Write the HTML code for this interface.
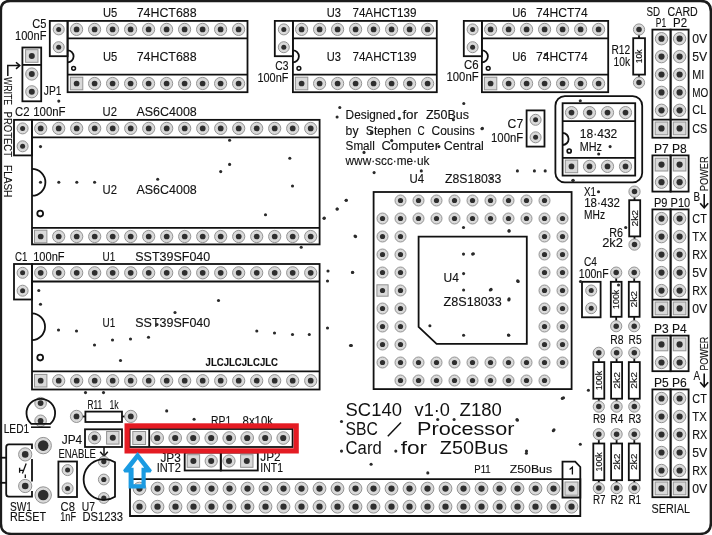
<!DOCTYPE html>
<html><head><meta charset="utf-8"><style>
html,body{margin:0;padding:0;background:#fff;}
svg{display:block;will-change:transform;}
text{font-family:"Liberation Sans", sans-serif;stroke:#111;stroke-width:0.12px;}
</style></head><body>
<svg width="712" height="535" viewBox="0 0 712 535">
<rect width="712" height="535" fill="#fff"/>
<path d="M 10.2 0.9 H 700.4 Q 710.9 0.9 710.9 11.4 V 522.9 Q 710.9 533.9 699.9 533.9 H 11.4 Q 0.9 533.9 0.9 523.4 V 10.2 Q 0.9 0.9 10.2 0.9 Z" fill="none" stroke="#1c1c1c" stroke-width="2.5" />
<rect x="67.6" y="20.9" width="179.9" height="71.30" rx="0" fill="none" stroke="#111" stroke-width="1.8"/>
<line x1="67.6" y1="38.4" x2="247.5" y2="38.4" stroke="#111" stroke-width="1.8" stroke-linecap="butt"/>
<line x1="67.6" y1="74.6" x2="247.5" y2="74.6" stroke="#111" stroke-width="1.8" stroke-linecap="butt"/>
<path d="M 67.6 50.3 A 6.0 6.0 0 0 1 67.6 62.3" fill="none" stroke="#111" stroke-width="1.8"/>
<circle cx="76.6" cy="29.4" r="6.1" fill="#d9d9d9" stroke="#939393" stroke-width="1.0"/>
<circle cx="76.6" cy="29.4" r="2.85" fill="#2e2e2e"/>
<rect x="70.4" y="77.2" width="12.39" height="12.6" fill="#d9d9d9" stroke="#939393" stroke-width="1.0"/>
<circle cx="76.6" cy="83.5" r="2.85" fill="#2e2e2e"/>
<circle cx="94.6" cy="29.4" r="6.1" fill="#d9d9d9" stroke="#939393" stroke-width="1.0"/>
<circle cx="94.6" cy="29.4" r="2.85" fill="#2e2e2e"/>
<circle cx="94.6" cy="83.5" r="6.1" fill="#d9d9d9" stroke="#939393" stroke-width="1.0"/>
<circle cx="94.6" cy="83.5" r="2.85" fill="#2e2e2e"/>
<circle cx="112.6" cy="29.4" r="6.1" fill="#d9d9d9" stroke="#939393" stroke-width="1.0"/>
<circle cx="112.6" cy="29.4" r="2.85" fill="#2e2e2e"/>
<circle cx="112.6" cy="83.5" r="6.1" fill="#d9d9d9" stroke="#939393" stroke-width="1.0"/>
<circle cx="112.6" cy="83.5" r="2.85" fill="#2e2e2e"/>
<circle cx="130.6" cy="29.4" r="6.1" fill="#d9d9d9" stroke="#939393" stroke-width="1.0"/>
<circle cx="130.6" cy="29.4" r="2.85" fill="#2e2e2e"/>
<circle cx="130.6" cy="83.5" r="6.1" fill="#d9d9d9" stroke="#939393" stroke-width="1.0"/>
<circle cx="130.6" cy="83.5" r="2.85" fill="#2e2e2e"/>
<circle cx="148.6" cy="29.4" r="6.1" fill="#d9d9d9" stroke="#939393" stroke-width="1.0"/>
<circle cx="148.6" cy="29.4" r="2.85" fill="#2e2e2e"/>
<circle cx="148.6" cy="83.5" r="6.1" fill="#d9d9d9" stroke="#939393" stroke-width="1.0"/>
<circle cx="148.6" cy="83.5" r="2.85" fill="#2e2e2e"/>
<circle cx="166.6" cy="29.4" r="6.1" fill="#d9d9d9" stroke="#939393" stroke-width="1.0"/>
<circle cx="166.6" cy="29.4" r="2.85" fill="#2e2e2e"/>
<circle cx="166.6" cy="83.5" r="6.1" fill="#d9d9d9" stroke="#939393" stroke-width="1.0"/>
<circle cx="166.6" cy="83.5" r="2.85" fill="#2e2e2e"/>
<circle cx="184.6" cy="29.4" r="6.1" fill="#d9d9d9" stroke="#939393" stroke-width="1.0"/>
<circle cx="184.6" cy="29.4" r="2.85" fill="#2e2e2e"/>
<circle cx="184.6" cy="83.5" r="6.1" fill="#d9d9d9" stroke="#939393" stroke-width="1.0"/>
<circle cx="184.6" cy="83.5" r="2.85" fill="#2e2e2e"/>
<circle cx="202.6" cy="29.4" r="6.1" fill="#d9d9d9" stroke="#939393" stroke-width="1.0"/>
<circle cx="202.6" cy="29.4" r="2.85" fill="#2e2e2e"/>
<circle cx="202.6" cy="83.5" r="6.1" fill="#d9d9d9" stroke="#939393" stroke-width="1.0"/>
<circle cx="202.6" cy="83.5" r="2.85" fill="#2e2e2e"/>
<circle cx="220.6" cy="29.4" r="6.1" fill="#d9d9d9" stroke="#939393" stroke-width="1.0"/>
<circle cx="220.6" cy="29.4" r="2.85" fill="#2e2e2e"/>
<circle cx="220.6" cy="83.5" r="6.1" fill="#d9d9d9" stroke="#939393" stroke-width="1.0"/>
<circle cx="220.6" cy="83.5" r="2.85" fill="#2e2e2e"/>
<circle cx="238.6" cy="29.4" r="6.1" fill="#d9d9d9" stroke="#939393" stroke-width="1.0"/>
<circle cx="238.6" cy="29.4" r="2.85" fill="#2e2e2e"/>
<circle cx="238.6" cy="83.5" r="6.1" fill="#d9d9d9" stroke="#939393" stroke-width="1.0"/>
<circle cx="238.6" cy="83.5" r="2.85" fill="#2e2e2e"/>
<circle cx="73.6" cy="68.3" r="1.9" fill="none" stroke="#111" stroke-width="1.5"/>
<text x="103" y="16.6" font-size="12.0" textLength="14.30" lengthAdjust="spacingAndGlyphs" fill="#111">U5</text>
<text x="136.7" y="16.6" font-size="12.0" textLength="59.90" lengthAdjust="spacingAndGlyphs" fill="#111">74HCT688</text>
<text x="103" y="61.2" font-size="12.0" textLength="14.30" lengthAdjust="spacingAndGlyphs" fill="#111">U5</text>
<text x="136.7" y="61.2" font-size="12.0" textLength="59.90" lengthAdjust="spacingAndGlyphs" fill="#111">74HCT688</text>
<rect x="49.8" y="20.9" width="17.79" height="35.30" rx="0" fill="none" stroke="#111" stroke-width="1.8"/>
<circle cx="58.7" cy="29.4" r="5.5" fill="#d9d9d9" stroke="#939393" stroke-width="1.0"/>
<circle cx="58.7" cy="29.4" r="2.5" fill="#2e2e2e"/>
<circle cx="58.7" cy="47.2" r="5.5" fill="#d9d9d9" stroke="#939393" stroke-width="1.0"/>
<circle cx="58.7" cy="47.2" r="2.5" fill="#2e2e2e"/>
<text x="32.2" y="28.3" font-size="12.0" textLength="14.20" lengthAdjust="spacingAndGlyphs" fill="#111">C5</text>
<text x="15" y="40.3" font-size="12.0" textLength="31.40" lengthAdjust="spacingAndGlyphs" fill="#111">100nF</text>
<rect x="22.4" y="47.5" width="18.80" height="53.8" rx="0" fill="none" stroke="#111" stroke-width="1.8"/>
<line x1="22.4" y1="64.9" x2="41.2" y2="64.9" stroke="#111" stroke-width="1.8" stroke-linecap="butt"/>
<rect x="25.6" y="49.69" width="12.39" height="12.6" fill="#d9d9d9" stroke="#939393" stroke-width="1.0"/>
<circle cx="31.8" cy="56" r="3.0" fill="#2e2e2e"/>
<circle cx="31.8" cy="74" r="6.1" fill="#d9d9d9" stroke="#939393" stroke-width="1.0"/>
<circle cx="31.8" cy="74" r="3.0" fill="#2e2e2e"/>
<circle cx="31.8" cy="91.8" r="6.1" fill="#d9d9d9" stroke="#939393" stroke-width="1.0"/>
<circle cx="31.8" cy="91.8" r="3.0" fill="#2e2e2e"/>
<text x="43.8" y="94.5" font-size="12.0" textLength="17.70" lengthAdjust="spacingAndGlyphs" fill="#111">JP1</text>
<path d="M 7.8 76 V 65.6 H 19.5" fill="none" stroke="#111" stroke-width="1.5" />
<path d="M 16 62.3 L 19.8 65.6 L 16 68.9" fill="none" stroke="#111" stroke-width="1.5" />
<text transform="translate(3.70,77) rotate(90)" x="0" y="0" font-size="11.48" textLength="28.20" lengthAdjust="spacingAndGlyphs" fill="#111">WRITE</text>
<text transform="translate(3.70,111.6) rotate(90)" x="0" y="0" font-size="11.48" textLength="45.40" lengthAdjust="spacingAndGlyphs" fill="#111">PROTECT</text>
<text transform="translate(3.70,165.1) rotate(90)" x="0" y="0" font-size="11.48" textLength="32.20" lengthAdjust="spacingAndGlyphs" fill="#111">FLASH</text>
<rect x="292.9" y="20.9" width="143.90" height="71.30" rx="0" fill="none" stroke="#111" stroke-width="1.8"/>
<line x1="292.9" y1="38.4" x2="436.8" y2="38.4" stroke="#111" stroke-width="1.8" stroke-linecap="butt"/>
<line x1="292.9" y1="74.6" x2="436.8" y2="74.6" stroke="#111" stroke-width="1.8" stroke-linecap="butt"/>
<path d="M 292.9 50.3 A 6.0 6.0 0 0 1 292.9 62.3" fill="none" stroke="#111" stroke-width="1.8"/>
<circle cx="301.6" cy="29.4" r="6.1" fill="#d9d9d9" stroke="#939393" stroke-width="1.0"/>
<circle cx="301.6" cy="29.4" r="2.85" fill="#2e2e2e"/>
<rect x="295.4" y="77.2" width="12.39" height="12.6" fill="#d9d9d9" stroke="#939393" stroke-width="1.0"/>
<circle cx="301.6" cy="83.5" r="2.85" fill="#2e2e2e"/>
<circle cx="319.6" cy="29.4" r="6.1" fill="#d9d9d9" stroke="#939393" stroke-width="1.0"/>
<circle cx="319.6" cy="29.4" r="2.85" fill="#2e2e2e"/>
<circle cx="319.6" cy="83.5" r="6.1" fill="#d9d9d9" stroke="#939393" stroke-width="1.0"/>
<circle cx="319.6" cy="83.5" r="2.85" fill="#2e2e2e"/>
<circle cx="337.6" cy="29.4" r="6.1" fill="#d9d9d9" stroke="#939393" stroke-width="1.0"/>
<circle cx="337.6" cy="29.4" r="2.85" fill="#2e2e2e"/>
<circle cx="337.6" cy="83.5" r="6.1" fill="#d9d9d9" stroke="#939393" stroke-width="1.0"/>
<circle cx="337.6" cy="83.5" r="2.85" fill="#2e2e2e"/>
<circle cx="355.6" cy="29.4" r="6.1" fill="#d9d9d9" stroke="#939393" stroke-width="1.0"/>
<circle cx="355.6" cy="29.4" r="2.85" fill="#2e2e2e"/>
<circle cx="355.6" cy="83.5" r="6.1" fill="#d9d9d9" stroke="#939393" stroke-width="1.0"/>
<circle cx="355.6" cy="83.5" r="2.85" fill="#2e2e2e"/>
<circle cx="373.6" cy="29.4" r="6.1" fill="#d9d9d9" stroke="#939393" stroke-width="1.0"/>
<circle cx="373.6" cy="29.4" r="2.85" fill="#2e2e2e"/>
<circle cx="373.6" cy="83.5" r="6.1" fill="#d9d9d9" stroke="#939393" stroke-width="1.0"/>
<circle cx="373.6" cy="83.5" r="2.85" fill="#2e2e2e"/>
<circle cx="391.6" cy="29.4" r="6.1" fill="#d9d9d9" stroke="#939393" stroke-width="1.0"/>
<circle cx="391.6" cy="29.4" r="2.85" fill="#2e2e2e"/>
<circle cx="391.6" cy="83.5" r="6.1" fill="#d9d9d9" stroke="#939393" stroke-width="1.0"/>
<circle cx="391.6" cy="83.5" r="2.85" fill="#2e2e2e"/>
<circle cx="409.6" cy="29.4" r="6.1" fill="#d9d9d9" stroke="#939393" stroke-width="1.0"/>
<circle cx="409.6" cy="29.4" r="2.85" fill="#2e2e2e"/>
<circle cx="409.6" cy="83.5" r="6.1" fill="#d9d9d9" stroke="#939393" stroke-width="1.0"/>
<circle cx="409.6" cy="83.5" r="2.85" fill="#2e2e2e"/>
<circle cx="427.6" cy="29.4" r="6.1" fill="#d9d9d9" stroke="#939393" stroke-width="1.0"/>
<circle cx="427.6" cy="29.4" r="2.85" fill="#2e2e2e"/>
<circle cx="427.6" cy="83.5" r="6.1" fill="#d9d9d9" stroke="#939393" stroke-width="1.0"/>
<circle cx="427.6" cy="83.5" r="2.85" fill="#2e2e2e"/>
<circle cx="298.9" cy="68.3" r="1.9" fill="none" stroke="#111" stroke-width="1.5"/>
<text x="326.8" y="16.6" font-size="12.0" textLength="14.20" lengthAdjust="spacingAndGlyphs" fill="#111">U3</text>
<text x="352.4" y="16.6" font-size="12.0" textLength="64.20" lengthAdjust="spacingAndGlyphs" fill="#111">74AHCT139</text>
<text x="326.8" y="61.2" font-size="12.0" textLength="14.20" lengthAdjust="spacingAndGlyphs" fill="#111">U3</text>
<text x="352.4" y="61.2" font-size="12.0" textLength="64.20" lengthAdjust="spacingAndGlyphs" fill="#111">74AHCT139</text>
<rect x="274.8" y="20.9" width="18.09" height="35.30" rx="0" fill="none" stroke="#111" stroke-width="1.8"/>
<circle cx="283.8" cy="29.4" r="5.5" fill="#d9d9d9" stroke="#939393" stroke-width="1.0"/>
<circle cx="283.8" cy="29.4" r="2.5" fill="#2e2e2e"/>
<circle cx="283.8" cy="47.2" r="5.5" fill="#d9d9d9" stroke="#939393" stroke-width="1.0"/>
<circle cx="283.8" cy="47.2" r="2.5" fill="#2e2e2e"/>
<text x="275.2" y="70.2" font-size="12.0" textLength="13.20" lengthAdjust="spacingAndGlyphs" fill="#111">C3</text>
<text x="257.5" y="81.6" font-size="12.0" textLength="30.90" lengthAdjust="spacingAndGlyphs" fill="#111">100nF</text>
<rect x="481.9" y="20.9" width="126.30" height="71.30" rx="0" fill="none" stroke="#111" stroke-width="1.8"/>
<line x1="481.9" y1="38.4" x2="608.2" y2="38.4" stroke="#111" stroke-width="1.8" stroke-linecap="butt"/>
<line x1="481.9" y1="74.6" x2="608.2" y2="74.6" stroke="#111" stroke-width="1.8" stroke-linecap="butt"/>
<path d="M 481.9 50.3 A 6.0 6.0 0 0 1 481.9 62.3" fill="none" stroke="#111" stroke-width="1.8"/>
<circle cx="490.6" cy="29.4" r="6.1" fill="#d9d9d9" stroke="#939393" stroke-width="1.0"/>
<circle cx="490.6" cy="29.4" r="2.85" fill="#2e2e2e"/>
<rect x="484.4" y="77.2" width="12.39" height="12.6" fill="#d9d9d9" stroke="#939393" stroke-width="1.0"/>
<circle cx="490.6" cy="83.5" r="2.85" fill="#2e2e2e"/>
<circle cx="508.6" cy="29.4" r="6.1" fill="#d9d9d9" stroke="#939393" stroke-width="1.0"/>
<circle cx="508.6" cy="29.4" r="2.85" fill="#2e2e2e"/>
<circle cx="508.6" cy="83.5" r="6.1" fill="#d9d9d9" stroke="#939393" stroke-width="1.0"/>
<circle cx="508.6" cy="83.5" r="2.85" fill="#2e2e2e"/>
<circle cx="526.6" cy="29.4" r="6.1" fill="#d9d9d9" stroke="#939393" stroke-width="1.0"/>
<circle cx="526.6" cy="29.4" r="2.85" fill="#2e2e2e"/>
<circle cx="526.6" cy="83.5" r="6.1" fill="#d9d9d9" stroke="#939393" stroke-width="1.0"/>
<circle cx="526.6" cy="83.5" r="2.85" fill="#2e2e2e"/>
<circle cx="544.6" cy="29.4" r="6.1" fill="#d9d9d9" stroke="#939393" stroke-width="1.0"/>
<circle cx="544.6" cy="29.4" r="2.85" fill="#2e2e2e"/>
<circle cx="544.6" cy="83.5" r="6.1" fill="#d9d9d9" stroke="#939393" stroke-width="1.0"/>
<circle cx="544.6" cy="83.5" r="2.85" fill="#2e2e2e"/>
<circle cx="562.6" cy="29.4" r="6.1" fill="#d9d9d9" stroke="#939393" stroke-width="1.0"/>
<circle cx="562.6" cy="29.4" r="2.85" fill="#2e2e2e"/>
<circle cx="562.6" cy="83.5" r="6.1" fill="#d9d9d9" stroke="#939393" stroke-width="1.0"/>
<circle cx="562.6" cy="83.5" r="2.85" fill="#2e2e2e"/>
<circle cx="580.6" cy="29.4" r="6.1" fill="#d9d9d9" stroke="#939393" stroke-width="1.0"/>
<circle cx="580.6" cy="29.4" r="2.85" fill="#2e2e2e"/>
<circle cx="580.6" cy="83.5" r="6.1" fill="#d9d9d9" stroke="#939393" stroke-width="1.0"/>
<circle cx="580.6" cy="83.5" r="2.85" fill="#2e2e2e"/>
<circle cx="598.6" cy="29.4" r="6.1" fill="#d9d9d9" stroke="#939393" stroke-width="1.0"/>
<circle cx="598.6" cy="29.4" r="2.85" fill="#2e2e2e"/>
<circle cx="598.6" cy="83.5" r="6.1" fill="#d9d9d9" stroke="#939393" stroke-width="1.0"/>
<circle cx="598.6" cy="83.5" r="2.85" fill="#2e2e2e"/>
<circle cx="488.2" cy="68.3" r="1.9" fill="none" stroke="#111" stroke-width="1.5"/>
<text x="512.3" y="16.6" font-size="12.0" textLength="14.30" lengthAdjust="spacingAndGlyphs" fill="#111">U6</text>
<text x="536" y="16.6" font-size="12.0" textLength="51.80" lengthAdjust="spacingAndGlyphs" fill="#111">74HCT74</text>
<text x="512.3" y="61.2" font-size="12.0" textLength="14.30" lengthAdjust="spacingAndGlyphs" fill="#111">U6</text>
<text x="536" y="61.2" font-size="12.0" textLength="51.80" lengthAdjust="spacingAndGlyphs" fill="#111">74HCT74</text>
<rect x="463.8" y="20.9" width="18.09" height="35.30" rx="0" fill="none" stroke="#111" stroke-width="1.8"/>
<circle cx="472.6" cy="29.4" r="5.5" fill="#d9d9d9" stroke="#939393" stroke-width="1.0"/>
<circle cx="472.6" cy="29.4" r="2.5" fill="#2e2e2e"/>
<circle cx="472.6" cy="47.2" r="5.5" fill="#d9d9d9" stroke="#939393" stroke-width="1.0"/>
<circle cx="472.6" cy="47.2" r="2.5" fill="#2e2e2e"/>
<text x="464" y="69.0" font-size="12.0" textLength="14.60" lengthAdjust="spacingAndGlyphs" fill="#111">C6</text>
<text x="446.5" y="81.0" font-size="12.0" textLength="32.10" lengthAdjust="spacingAndGlyphs" fill="#111">100nF</text>
<line x1="639" y1="34.5" x2="639" y2="38.2" stroke="#111" stroke-width="1.8" stroke-linecap="butt"/>
<line x1="639" y1="74.6" x2="639" y2="77.6" stroke="#111" stroke-width="1.8" stroke-linecap="butt"/>
<rect x="633.2" y="38.2" width="11.79" height="36.39" rx="0" fill="none" stroke="#111" stroke-width="1.8"/>
<circle cx="639" cy="29.5" r="5.6" fill="#d9d9d9" stroke="#939393" stroke-width="1.0"/>
<circle cx="639" cy="29.5" r="2.75" fill="#2e2e2e"/>
<circle cx="639" cy="82.6" r="5.6" fill="#d9d9d9" stroke="#939393" stroke-width="1.0"/>
<circle cx="639" cy="82.6" r="2.75" fill="#2e2e2e"/>
<text transform="translate(642.15,63.35) rotate(-90)" x="0" y="0" font-size="9.16" textLength="13.90" lengthAdjust="spacingAndGlyphs" fill="#111">10k</text>
<text x="611.5" y="54" font-size="12.0" textLength="18.70" lengthAdjust="spacingAndGlyphs" fill="#111">R12</text>
<text x="613.6" y="65.6" font-size="12.0" textLength="16.60" lengthAdjust="spacingAndGlyphs" fill="#111">10k</text>
<rect x="652.4" y="29.6" width="18.20" height="108.1" rx="0" fill="none" stroke="#111" stroke-width="1.8"/>
<rect x="670.6" y="29.6" width="18.0" height="108.1" rx="0" fill="none" stroke="#111" stroke-width="1.8"/>
<line x1="652.4" y1="119.6" x2="688.6" y2="119.6" stroke="#111" stroke-width="1.8" stroke-linecap="butt"/>
<circle cx="661.5" cy="38.7" r="6.2" fill="#d9d9d9" stroke="#939393" stroke-width="1.0"/>
<circle cx="661.5" cy="38.7" r="3.1" fill="#2e2e2e"/>
<circle cx="679.6" cy="38.7" r="6.2" fill="#d9d9d9" stroke="#939393" stroke-width="1.0"/>
<circle cx="679.6" cy="38.7" r="3.1" fill="#2e2e2e"/>
<circle cx="661.5" cy="56.6" r="6.2" fill="#d9d9d9" stroke="#939393" stroke-width="1.0"/>
<circle cx="661.5" cy="56.6" r="3.1" fill="#2e2e2e"/>
<circle cx="679.6" cy="56.6" r="6.2" fill="#d9d9d9" stroke="#939393" stroke-width="1.0"/>
<circle cx="679.6" cy="56.6" r="3.1" fill="#2e2e2e"/>
<circle cx="661.5" cy="74.5" r="6.2" fill="#d9d9d9" stroke="#939393" stroke-width="1.0"/>
<circle cx="661.5" cy="74.5" r="3.1" fill="#2e2e2e"/>
<circle cx="679.6" cy="74.5" r="6.2" fill="#d9d9d9" stroke="#939393" stroke-width="1.0"/>
<circle cx="679.6" cy="74.5" r="3.1" fill="#2e2e2e"/>
<circle cx="661.5" cy="92.4" r="6.2" fill="#d9d9d9" stroke="#939393" stroke-width="1.0"/>
<circle cx="661.5" cy="92.4" r="3.1" fill="#2e2e2e"/>
<circle cx="679.6" cy="92.4" r="6.2" fill="#d9d9d9" stroke="#939393" stroke-width="1.0"/>
<circle cx="679.6" cy="92.4" r="3.1" fill="#2e2e2e"/>
<circle cx="661.5" cy="110.3" r="6.2" fill="#d9d9d9" stroke="#939393" stroke-width="1.0"/>
<circle cx="661.5" cy="110.3" r="3.1" fill="#2e2e2e"/>
<circle cx="679.6" cy="110.3" r="6.2" fill="#d9d9d9" stroke="#939393" stroke-width="1.0"/>
<circle cx="679.6" cy="110.3" r="3.1" fill="#2e2e2e"/>
<rect x="655.19" y="122.0" width="12.6" height="12.8" fill="#d9d9d9" stroke="#939393" stroke-width="1.0"/>
<circle cx="661.5" cy="128.4" r="3.1" fill="#2e2e2e"/>
<rect x="673.3" y="122.0" width="12.6" height="12.8" fill="#d9d9d9" stroke="#939393" stroke-width="1.0"/>
<circle cx="679.6" cy="128.4" r="3.1" fill="#2e2e2e"/>
<text x="646.6" y="15.8" font-size="12.0" textLength="13.60" lengthAdjust="spacingAndGlyphs" fill="#111">SD</text>
<text x="667.6" y="15.8" font-size="12.0" textLength="30.20" lengthAdjust="spacingAndGlyphs" fill="#111">CARD</text>
<text x="655.8" y="26.7" font-size="12.0" textLength="10.40" lengthAdjust="spacingAndGlyphs" fill="#111">P1</text>
<text x="673" y="26.7" font-size="12.0" textLength="14.00" lengthAdjust="spacingAndGlyphs" fill="#111">P2</text>
<text x="692.3" y="42.80" font-size="12.0" textLength="15.00" lengthAdjust="spacingAndGlyphs" fill="#111">0V</text>
<text x="692.3" y="60.7" font-size="12.0" textLength="15.00" lengthAdjust="spacingAndGlyphs" fill="#111">5V</text>
<text x="692.3" y="78.6" font-size="12.0" textLength="12.00" lengthAdjust="spacingAndGlyphs" fill="#111">MI</text>
<text x="692.3" y="96.5" font-size="12.0" textLength="16.00" lengthAdjust="spacingAndGlyphs" fill="#111">MO</text>
<text x="692.3" y="114.39" font-size="12.0" textLength="14.00" lengthAdjust="spacingAndGlyphs" fill="#111">CL</text>
<text x="692.3" y="132.5" font-size="12.0" textLength="15.00" lengthAdjust="spacingAndGlyphs" fill="#111">CS</text>
<rect x="555.4" y="96.2" width="86.80" height="86.2" rx="9.5" fill="none" stroke="#111" stroke-width="1.8"/>
<rect x="562.6" y="103.2" width="72.60" height="72.39" rx="0" fill="none" stroke="#111" stroke-width="1.8"/>
<line x1="562.6" y1="121.2" x2="635.2" y2="121.2" stroke="#111" stroke-width="1.8" stroke-linecap="butt"/>
<line x1="562.6" y1="157.8" x2="635.2" y2="157.8" stroke="#111" stroke-width="1.8" stroke-linecap="butt"/>
<path d="M 562.6 133 A 6 6 0 0 1 562.6 145" fill="none" stroke="#111" stroke-width="1.8"/>
<circle cx="569.2" cy="151" r="2.0" fill="none" stroke="#111" stroke-width="1.7"/>
<circle cx="571.5" cy="112.6" r="6.1" fill="#d9d9d9" stroke="#939393" stroke-width="1.0"/>
<circle cx="571.5" cy="112.6" r="2.85" fill="#2e2e2e"/>
<rect x="565.3" y="160.10" width="12.39" height="12.6" fill="#d9d9d9" stroke="#939393" stroke-width="1.0"/>
<circle cx="571.5" cy="166.4" r="2.85" fill="#2e2e2e"/>
<circle cx="589.5" cy="112.6" r="6.1" fill="#d9d9d9" stroke="#939393" stroke-width="1.0"/>
<circle cx="589.5" cy="112.6" r="2.85" fill="#2e2e2e"/>
<circle cx="589.5" cy="166.4" r="6.1" fill="#d9d9d9" stroke="#939393" stroke-width="1.0"/>
<circle cx="589.5" cy="166.4" r="2.85" fill="#2e2e2e"/>
<circle cx="607.5" cy="112.6" r="6.1" fill="#d9d9d9" stroke="#939393" stroke-width="1.0"/>
<circle cx="607.5" cy="112.6" r="2.85" fill="#2e2e2e"/>
<circle cx="607.5" cy="166.4" r="6.1" fill="#d9d9d9" stroke="#939393" stroke-width="1.0"/>
<circle cx="607.5" cy="166.4" r="2.85" fill="#2e2e2e"/>
<circle cx="625.5" cy="112.6" r="6.1" fill="#d9d9d9" stroke="#939393" stroke-width="1.0"/>
<circle cx="625.5" cy="112.6" r="2.85" fill="#2e2e2e"/>
<circle cx="625.5" cy="166.4" r="6.1" fill="#d9d9d9" stroke="#939393" stroke-width="1.0"/>
<circle cx="625.5" cy="166.4" r="2.85" fill="#2e2e2e"/>
<text x="579.8" y="137.8" font-size="12.0" textLength="37.50" lengthAdjust="spacingAndGlyphs" fill="#111">18·432</text>
<text x="579.8" y="150.8" font-size="12.0" textLength="22.20" lengthAdjust="spacingAndGlyphs" fill="#111">MHz</text>
<rect x="526.6" y="110.4" width="17.89" height="36.19" rx="0" fill="none" stroke="#111" stroke-width="1.8"/>
<circle cx="535.6" cy="119.8" r="5.5" fill="#d9d9d9" stroke="#939393" stroke-width="1.0"/>
<circle cx="535.6" cy="119.8" r="2.5" fill="#2e2e2e"/>
<circle cx="535.6" cy="137.3" r="5.5" fill="#d9d9d9" stroke="#939393" stroke-width="1.0"/>
<circle cx="535.6" cy="137.3" r="2.5" fill="#2e2e2e"/>
<text x="507.6" y="128.4" font-size="12.0" textLength="15.60" lengthAdjust="spacingAndGlyphs" fill="#111">C7</text>
<text x="491" y="142.4" font-size="12.0" textLength="32.20" lengthAdjust="spacingAndGlyphs" fill="#111">100nF</text>
<rect x="32.0" y="119.85" width="287.6" height="124.55" rx="0" fill="none" stroke="#111" stroke-width="1.8"/>
<line x1="32.0" y1="137.4" x2="319.6" y2="137.4" stroke="#111" stroke-width="1.8" stroke-linecap="butt"/>
<line x1="32.0" y1="227.8" x2="319.6" y2="227.8" stroke="#111" stroke-width="1.8" stroke-linecap="butt"/>
<path d="M 32.0 168.9 A 13.4 13.4 0 0 1 32.0 195.70" fill="none" stroke="#111" stroke-width="1.8"/>
<circle cx="40.7" cy="128.4" r="6.1" fill="#d9d9d9" stroke="#939393" stroke-width="1.0"/>
<circle cx="40.7" cy="128.4" r="2.85" fill="#2e2e2e"/>
<rect x="34.5" y="230.20" width="12.39" height="12.6" fill="#d9d9d9" stroke="#939393" stroke-width="1.0"/>
<circle cx="40.7" cy="236.5" r="2.85" fill="#2e2e2e"/>
<circle cx="58.7" cy="128.4" r="6.1" fill="#d9d9d9" stroke="#939393" stroke-width="1.0"/>
<circle cx="58.7" cy="128.4" r="2.85" fill="#2e2e2e"/>
<circle cx="58.7" cy="236.5" r="6.1" fill="#d9d9d9" stroke="#939393" stroke-width="1.0"/>
<circle cx="58.7" cy="236.5" r="2.85" fill="#2e2e2e"/>
<circle cx="76.7" cy="128.4" r="6.1" fill="#d9d9d9" stroke="#939393" stroke-width="1.0"/>
<circle cx="76.7" cy="128.4" r="2.85" fill="#2e2e2e"/>
<circle cx="76.7" cy="236.5" r="6.1" fill="#d9d9d9" stroke="#939393" stroke-width="1.0"/>
<circle cx="76.7" cy="236.5" r="2.85" fill="#2e2e2e"/>
<circle cx="94.7" cy="128.4" r="6.1" fill="#d9d9d9" stroke="#939393" stroke-width="1.0"/>
<circle cx="94.7" cy="128.4" r="2.85" fill="#2e2e2e"/>
<circle cx="94.7" cy="236.5" r="6.1" fill="#d9d9d9" stroke="#939393" stroke-width="1.0"/>
<circle cx="94.7" cy="236.5" r="2.85" fill="#2e2e2e"/>
<circle cx="112.7" cy="128.4" r="6.1" fill="#d9d9d9" stroke="#939393" stroke-width="1.0"/>
<circle cx="112.7" cy="128.4" r="2.85" fill="#2e2e2e"/>
<circle cx="112.7" cy="236.5" r="6.1" fill="#d9d9d9" stroke="#939393" stroke-width="1.0"/>
<circle cx="112.7" cy="236.5" r="2.85" fill="#2e2e2e"/>
<circle cx="130.7" cy="128.4" r="6.1" fill="#d9d9d9" stroke="#939393" stroke-width="1.0"/>
<circle cx="130.7" cy="128.4" r="2.85" fill="#2e2e2e"/>
<circle cx="130.7" cy="236.5" r="6.1" fill="#d9d9d9" stroke="#939393" stroke-width="1.0"/>
<circle cx="130.7" cy="236.5" r="2.85" fill="#2e2e2e"/>
<circle cx="148.7" cy="128.4" r="6.1" fill="#d9d9d9" stroke="#939393" stroke-width="1.0"/>
<circle cx="148.7" cy="128.4" r="2.85" fill="#2e2e2e"/>
<circle cx="148.7" cy="236.5" r="6.1" fill="#d9d9d9" stroke="#939393" stroke-width="1.0"/>
<circle cx="148.7" cy="236.5" r="2.85" fill="#2e2e2e"/>
<circle cx="166.7" cy="128.4" r="6.1" fill="#d9d9d9" stroke="#939393" stroke-width="1.0"/>
<circle cx="166.7" cy="128.4" r="2.85" fill="#2e2e2e"/>
<circle cx="166.7" cy="236.5" r="6.1" fill="#d9d9d9" stroke="#939393" stroke-width="1.0"/>
<circle cx="166.7" cy="236.5" r="2.85" fill="#2e2e2e"/>
<circle cx="184.7" cy="128.4" r="6.1" fill="#d9d9d9" stroke="#939393" stroke-width="1.0"/>
<circle cx="184.7" cy="128.4" r="2.85" fill="#2e2e2e"/>
<circle cx="184.7" cy="236.5" r="6.1" fill="#d9d9d9" stroke="#939393" stroke-width="1.0"/>
<circle cx="184.7" cy="236.5" r="2.85" fill="#2e2e2e"/>
<circle cx="202.7" cy="128.4" r="6.1" fill="#d9d9d9" stroke="#939393" stroke-width="1.0"/>
<circle cx="202.7" cy="128.4" r="2.85" fill="#2e2e2e"/>
<circle cx="202.7" cy="236.5" r="6.1" fill="#d9d9d9" stroke="#939393" stroke-width="1.0"/>
<circle cx="202.7" cy="236.5" r="2.85" fill="#2e2e2e"/>
<circle cx="220.7" cy="128.4" r="6.1" fill="#d9d9d9" stroke="#939393" stroke-width="1.0"/>
<circle cx="220.7" cy="128.4" r="2.85" fill="#2e2e2e"/>
<circle cx="220.7" cy="236.5" r="6.1" fill="#d9d9d9" stroke="#939393" stroke-width="1.0"/>
<circle cx="220.7" cy="236.5" r="2.85" fill="#2e2e2e"/>
<circle cx="238.7" cy="128.4" r="6.1" fill="#d9d9d9" stroke="#939393" stroke-width="1.0"/>
<circle cx="238.7" cy="128.4" r="2.85" fill="#2e2e2e"/>
<circle cx="238.7" cy="236.5" r="6.1" fill="#d9d9d9" stroke="#939393" stroke-width="1.0"/>
<circle cx="238.7" cy="236.5" r="2.85" fill="#2e2e2e"/>
<circle cx="256.7" cy="128.4" r="6.1" fill="#d9d9d9" stroke="#939393" stroke-width="1.0"/>
<circle cx="256.7" cy="128.4" r="2.85" fill="#2e2e2e"/>
<circle cx="256.7" cy="236.5" r="6.1" fill="#d9d9d9" stroke="#939393" stroke-width="1.0"/>
<circle cx="256.7" cy="236.5" r="2.85" fill="#2e2e2e"/>
<circle cx="274.7" cy="128.4" r="6.1" fill="#d9d9d9" stroke="#939393" stroke-width="1.0"/>
<circle cx="274.7" cy="128.4" r="2.85" fill="#2e2e2e"/>
<circle cx="274.7" cy="236.5" r="6.1" fill="#d9d9d9" stroke="#939393" stroke-width="1.0"/>
<circle cx="274.7" cy="236.5" r="2.85" fill="#2e2e2e"/>
<circle cx="292.7" cy="128.4" r="6.1" fill="#d9d9d9" stroke="#939393" stroke-width="1.0"/>
<circle cx="292.7" cy="128.4" r="2.85" fill="#2e2e2e"/>
<circle cx="292.7" cy="236.5" r="6.1" fill="#d9d9d9" stroke="#939393" stroke-width="1.0"/>
<circle cx="292.7" cy="236.5" r="2.85" fill="#2e2e2e"/>
<circle cx="310.7" cy="128.4" r="6.1" fill="#d9d9d9" stroke="#939393" stroke-width="1.0"/>
<circle cx="310.7" cy="128.4" r="2.85" fill="#2e2e2e"/>
<circle cx="310.7" cy="236.5" r="6.1" fill="#d9d9d9" stroke="#939393" stroke-width="1.0"/>
<circle cx="310.7" cy="236.5" r="2.85" fill="#2e2e2e"/>
<circle cx="40.2" cy="213.6" r="2.9" fill="none" stroke="#111" stroke-width="1.8"/>
<text x="15" y="116.3" font-size="12.0" textLength="14.50" lengthAdjust="spacingAndGlyphs" fill="#111">C2</text>
<text x="33.2" y="116.3" font-size="12.0" textLength="32.40" lengthAdjust="spacingAndGlyphs" fill="#111">100nF</text>
<text x="102.6" y="116.3" font-size="12.0" textLength="14.40" lengthAdjust="spacingAndGlyphs" fill="#111">U2</text>
<text x="136.4" y="116.3" font-size="12.0" textLength="60.40" lengthAdjust="spacingAndGlyphs" fill="#111">AS6C4008</text>
<text x="102.6" y="193.6" font-size="12.0" textLength="14.40" lengthAdjust="spacingAndGlyphs" fill="#111">U2</text>
<text x="136.4" y="193.6" font-size="12.0" textLength="60.40" lengthAdjust="spacingAndGlyphs" fill="#111">AS6C4008</text>
<rect x="14.0" y="119.85" width="18.0" height="35.55" rx="0" fill="none" stroke="#111" stroke-width="1.8"/>
<circle cx="22.6" cy="128.4" r="5.5" fill="#d9d9d9" stroke="#939393" stroke-width="1.0"/>
<circle cx="22.6" cy="128.4" r="2.5" fill="#2e2e2e"/>
<circle cx="22.6" cy="146.3" r="5.5" fill="#d9d9d9" stroke="#939393" stroke-width="1.0"/>
<circle cx="22.6" cy="146.3" r="2.5" fill="#2e2e2e"/>
<rect x="32.0" y="264.0" width="287.6" height="125.5" rx="0" fill="none" stroke="#111" stroke-width="1.8"/>
<line x1="32.0" y1="281.5" x2="319.6" y2="281.5" stroke="#111" stroke-width="1.8" stroke-linecap="butt"/>
<line x1="32.0" y1="371.3" x2="319.6" y2="371.3" stroke="#111" stroke-width="1.8" stroke-linecap="butt"/>
<path d="M 32.0 313.3 A 13.4 13.4 0 0 1 32.0 340.09" fill="none" stroke="#111" stroke-width="1.8"/>
<circle cx="40.7" cy="272.8" r="6.1" fill="#d9d9d9" stroke="#939393" stroke-width="1.0"/>
<circle cx="40.7" cy="272.8" r="2.85" fill="#2e2e2e"/>
<rect x="34.5" y="374.4" width="12.39" height="12.6" fill="#d9d9d9" stroke="#939393" stroke-width="1.0"/>
<circle cx="40.7" cy="380.7" r="2.85" fill="#2e2e2e"/>
<circle cx="58.7" cy="272.8" r="6.1" fill="#d9d9d9" stroke="#939393" stroke-width="1.0"/>
<circle cx="58.7" cy="272.8" r="2.85" fill="#2e2e2e"/>
<circle cx="58.7" cy="380.7" r="6.1" fill="#d9d9d9" stroke="#939393" stroke-width="1.0"/>
<circle cx="58.7" cy="380.7" r="2.85" fill="#2e2e2e"/>
<circle cx="76.7" cy="272.8" r="6.1" fill="#d9d9d9" stroke="#939393" stroke-width="1.0"/>
<circle cx="76.7" cy="272.8" r="2.85" fill="#2e2e2e"/>
<circle cx="76.7" cy="380.7" r="6.1" fill="#d9d9d9" stroke="#939393" stroke-width="1.0"/>
<circle cx="76.7" cy="380.7" r="2.85" fill="#2e2e2e"/>
<circle cx="94.7" cy="272.8" r="6.1" fill="#d9d9d9" stroke="#939393" stroke-width="1.0"/>
<circle cx="94.7" cy="272.8" r="2.85" fill="#2e2e2e"/>
<circle cx="94.7" cy="380.7" r="6.1" fill="#d9d9d9" stroke="#939393" stroke-width="1.0"/>
<circle cx="94.7" cy="380.7" r="2.85" fill="#2e2e2e"/>
<circle cx="112.7" cy="272.8" r="6.1" fill="#d9d9d9" stroke="#939393" stroke-width="1.0"/>
<circle cx="112.7" cy="272.8" r="2.85" fill="#2e2e2e"/>
<circle cx="112.7" cy="380.7" r="6.1" fill="#d9d9d9" stroke="#939393" stroke-width="1.0"/>
<circle cx="112.7" cy="380.7" r="2.85" fill="#2e2e2e"/>
<circle cx="130.7" cy="272.8" r="6.1" fill="#d9d9d9" stroke="#939393" stroke-width="1.0"/>
<circle cx="130.7" cy="272.8" r="2.85" fill="#2e2e2e"/>
<circle cx="130.7" cy="380.7" r="6.1" fill="#d9d9d9" stroke="#939393" stroke-width="1.0"/>
<circle cx="130.7" cy="380.7" r="2.85" fill="#2e2e2e"/>
<circle cx="148.7" cy="272.8" r="6.1" fill="#d9d9d9" stroke="#939393" stroke-width="1.0"/>
<circle cx="148.7" cy="272.8" r="2.85" fill="#2e2e2e"/>
<circle cx="148.7" cy="380.7" r="6.1" fill="#d9d9d9" stroke="#939393" stroke-width="1.0"/>
<circle cx="148.7" cy="380.7" r="2.85" fill="#2e2e2e"/>
<circle cx="166.7" cy="272.8" r="6.1" fill="#d9d9d9" stroke="#939393" stroke-width="1.0"/>
<circle cx="166.7" cy="272.8" r="2.85" fill="#2e2e2e"/>
<circle cx="166.7" cy="380.7" r="6.1" fill="#d9d9d9" stroke="#939393" stroke-width="1.0"/>
<circle cx="166.7" cy="380.7" r="2.85" fill="#2e2e2e"/>
<circle cx="184.7" cy="272.8" r="6.1" fill="#d9d9d9" stroke="#939393" stroke-width="1.0"/>
<circle cx="184.7" cy="272.8" r="2.85" fill="#2e2e2e"/>
<circle cx="184.7" cy="380.7" r="6.1" fill="#d9d9d9" stroke="#939393" stroke-width="1.0"/>
<circle cx="184.7" cy="380.7" r="2.85" fill="#2e2e2e"/>
<circle cx="202.7" cy="272.8" r="6.1" fill="#d9d9d9" stroke="#939393" stroke-width="1.0"/>
<circle cx="202.7" cy="272.8" r="2.85" fill="#2e2e2e"/>
<circle cx="202.7" cy="380.7" r="6.1" fill="#d9d9d9" stroke="#939393" stroke-width="1.0"/>
<circle cx="202.7" cy="380.7" r="2.85" fill="#2e2e2e"/>
<circle cx="220.7" cy="272.8" r="6.1" fill="#d9d9d9" stroke="#939393" stroke-width="1.0"/>
<circle cx="220.7" cy="272.8" r="2.85" fill="#2e2e2e"/>
<circle cx="220.7" cy="380.7" r="6.1" fill="#d9d9d9" stroke="#939393" stroke-width="1.0"/>
<circle cx="220.7" cy="380.7" r="2.85" fill="#2e2e2e"/>
<circle cx="238.7" cy="272.8" r="6.1" fill="#d9d9d9" stroke="#939393" stroke-width="1.0"/>
<circle cx="238.7" cy="272.8" r="2.85" fill="#2e2e2e"/>
<circle cx="238.7" cy="380.7" r="6.1" fill="#d9d9d9" stroke="#939393" stroke-width="1.0"/>
<circle cx="238.7" cy="380.7" r="2.85" fill="#2e2e2e"/>
<circle cx="256.7" cy="272.8" r="6.1" fill="#d9d9d9" stroke="#939393" stroke-width="1.0"/>
<circle cx="256.7" cy="272.8" r="2.85" fill="#2e2e2e"/>
<circle cx="256.7" cy="380.7" r="6.1" fill="#d9d9d9" stroke="#939393" stroke-width="1.0"/>
<circle cx="256.7" cy="380.7" r="2.85" fill="#2e2e2e"/>
<circle cx="274.7" cy="272.8" r="6.1" fill="#d9d9d9" stroke="#939393" stroke-width="1.0"/>
<circle cx="274.7" cy="272.8" r="2.85" fill="#2e2e2e"/>
<circle cx="274.7" cy="380.7" r="6.1" fill="#d9d9d9" stroke="#939393" stroke-width="1.0"/>
<circle cx="274.7" cy="380.7" r="2.85" fill="#2e2e2e"/>
<circle cx="292.7" cy="272.8" r="6.1" fill="#d9d9d9" stroke="#939393" stroke-width="1.0"/>
<circle cx="292.7" cy="272.8" r="2.85" fill="#2e2e2e"/>
<circle cx="292.7" cy="380.7" r="6.1" fill="#d9d9d9" stroke="#939393" stroke-width="1.0"/>
<circle cx="292.7" cy="380.7" r="2.85" fill="#2e2e2e"/>
<circle cx="310.7" cy="272.8" r="6.1" fill="#d9d9d9" stroke="#939393" stroke-width="1.0"/>
<circle cx="310.7" cy="272.8" r="2.85" fill="#2e2e2e"/>
<circle cx="310.7" cy="380.7" r="6.1" fill="#d9d9d9" stroke="#939393" stroke-width="1.0"/>
<circle cx="310.7" cy="380.7" r="2.85" fill="#2e2e2e"/>
<circle cx="40.2" cy="357.6" r="2.9" fill="none" stroke="#111" stroke-width="1.8"/>
<text x="15" y="260.6" font-size="12.0" textLength="12.40" lengthAdjust="spacingAndGlyphs" fill="#111">C1</text>
<text x="33.2" y="260.6" font-size="12.0" textLength="31.40" lengthAdjust="spacingAndGlyphs" fill="#111">100nF</text>
<text x="102.6" y="260.6" font-size="12.0" textLength="12.70" lengthAdjust="spacingAndGlyphs" fill="#111">U1</text>
<text x="135.3" y="260.6" font-size="12.0" textLength="74.90" lengthAdjust="spacingAndGlyphs" fill="#111">SST39SF040</text>
<text x="102.6" y="326.6" font-size="12.0" textLength="12.70" lengthAdjust="spacingAndGlyphs" fill="#111">U1</text>
<text x="135.3" y="326.6" font-size="12.0" textLength="74.90" lengthAdjust="spacingAndGlyphs" fill="#111">SST39SF040</text>
<rect x="14.0" y="264.0" width="18.0" height="35.5" rx="0" fill="none" stroke="#111" stroke-width="1.8"/>
<circle cx="22.6" cy="272.8" r="5.5" fill="#d9d9d9" stroke="#939393" stroke-width="1.0"/>
<circle cx="22.6" cy="272.8" r="2.5" fill="#2e2e2e"/>
<circle cx="22.6" cy="290.7" r="5.5" fill="#d9d9d9" stroke="#939393" stroke-width="1.0"/>
<circle cx="22.6" cy="290.7" r="2.5" fill="#2e2e2e"/>
<text x="205.6" y="365.5" font-size="10.4" textLength="72.40" lengthAdjust="spacingAndGlyphs" fill="#111" font-weight="bold">JLCJLCJLCJLC</text>
<rect x="373.6" y="192" width="198.0" height="197.10" rx="0" fill="none" stroke="#111" stroke-width="1.8"/>
<polygon points="418.6,236.6 526.8,236.6 526.8,343.8 436.6,343.8 418.6,326.8" fill="none" stroke="#111" stroke-width="1.8" stroke-linejoin="miter"/>
<circle cx="400.5" cy="200.5" r="5.5" fill="#d9d9d9" stroke="#939393" stroke-width="1.0"/>
<circle cx="400.5" cy="200.5" r="2.6" fill="#2e2e2e"/>
<circle cx="418.5" cy="200.5" r="5.5" fill="#d9d9d9" stroke="#939393" stroke-width="1.0"/>
<circle cx="418.5" cy="200.5" r="2.6" fill="#2e2e2e"/>
<circle cx="436.5" cy="200.5" r="5.5" fill="#d9d9d9" stroke="#939393" stroke-width="1.0"/>
<circle cx="436.5" cy="200.5" r="2.6" fill="#2e2e2e"/>
<circle cx="454.5" cy="200.5" r="5.5" fill="#d9d9d9" stroke="#939393" stroke-width="1.0"/>
<circle cx="454.5" cy="200.5" r="2.6" fill="#2e2e2e"/>
<circle cx="472.5" cy="200.5" r="5.5" fill="#d9d9d9" stroke="#939393" stroke-width="1.0"/>
<circle cx="472.5" cy="200.5" r="2.6" fill="#2e2e2e"/>
<circle cx="490.5" cy="200.5" r="5.5" fill="#d9d9d9" stroke="#939393" stroke-width="1.0"/>
<circle cx="490.5" cy="200.5" r="2.6" fill="#2e2e2e"/>
<circle cx="508.5" cy="200.5" r="5.5" fill="#d9d9d9" stroke="#939393" stroke-width="1.0"/>
<circle cx="508.5" cy="200.5" r="2.6" fill="#2e2e2e"/>
<circle cx="526.5" cy="200.5" r="5.5" fill="#d9d9d9" stroke="#939393" stroke-width="1.0"/>
<circle cx="526.5" cy="200.5" r="2.6" fill="#2e2e2e"/>
<circle cx="544.5" cy="200.5" r="5.5" fill="#d9d9d9" stroke="#939393" stroke-width="1.0"/>
<circle cx="544.5" cy="200.5" r="2.6" fill="#2e2e2e"/>
<circle cx="382.5" cy="218.5" r="5.5" fill="#d9d9d9" stroke="#939393" stroke-width="1.0"/>
<circle cx="382.5" cy="218.5" r="2.6" fill="#2e2e2e"/>
<circle cx="400.5" cy="218.5" r="5.5" fill="#d9d9d9" stroke="#939393" stroke-width="1.0"/>
<circle cx="400.5" cy="218.5" r="2.6" fill="#2e2e2e"/>
<circle cx="418.5" cy="218.5" r="5.5" fill="#d9d9d9" stroke="#939393" stroke-width="1.0"/>
<circle cx="418.5" cy="218.5" r="2.6" fill="#2e2e2e"/>
<circle cx="436.5" cy="218.5" r="5.5" fill="#d9d9d9" stroke="#939393" stroke-width="1.0"/>
<circle cx="436.5" cy="218.5" r="2.6" fill="#2e2e2e"/>
<circle cx="454.5" cy="218.5" r="5.5" fill="#d9d9d9" stroke="#939393" stroke-width="1.0"/>
<circle cx="454.5" cy="218.5" r="2.6" fill="#2e2e2e"/>
<circle cx="472.5" cy="218.5" r="5.5" fill="#d9d9d9" stroke="#939393" stroke-width="1.0"/>
<circle cx="472.5" cy="218.5" r="2.6" fill="#2e2e2e"/>
<circle cx="490.5" cy="218.5" r="5.5" fill="#d9d9d9" stroke="#939393" stroke-width="1.0"/>
<circle cx="490.5" cy="218.5" r="2.6" fill="#2e2e2e"/>
<circle cx="508.5" cy="218.5" r="5.5" fill="#d9d9d9" stroke="#939393" stroke-width="1.0"/>
<circle cx="508.5" cy="218.5" r="2.6" fill="#2e2e2e"/>
<circle cx="526.5" cy="218.5" r="5.5" fill="#d9d9d9" stroke="#939393" stroke-width="1.0"/>
<circle cx="526.5" cy="218.5" r="2.6" fill="#2e2e2e"/>
<circle cx="544.5" cy="218.5" r="5.5" fill="#d9d9d9" stroke="#939393" stroke-width="1.0"/>
<circle cx="544.5" cy="218.5" r="2.6" fill="#2e2e2e"/>
<circle cx="562.5" cy="218.5" r="5.5" fill="#d9d9d9" stroke="#939393" stroke-width="1.0"/>
<circle cx="562.5" cy="218.5" r="2.6" fill="#2e2e2e"/>
<circle cx="382.5" cy="236.5" r="5.5" fill="#d9d9d9" stroke="#939393" stroke-width="1.0"/>
<circle cx="382.5" cy="236.5" r="2.6" fill="#2e2e2e"/>
<circle cx="400.5" cy="236.5" r="5.5" fill="#d9d9d9" stroke="#939393" stroke-width="1.0"/>
<circle cx="400.5" cy="236.5" r="2.6" fill="#2e2e2e"/>
<circle cx="544.5" cy="236.5" r="5.5" fill="#d9d9d9" stroke="#939393" stroke-width="1.0"/>
<circle cx="544.5" cy="236.5" r="2.6" fill="#2e2e2e"/>
<circle cx="562.5" cy="236.5" r="5.5" fill="#d9d9d9" stroke="#939393" stroke-width="1.0"/>
<circle cx="562.5" cy="236.5" r="2.6" fill="#2e2e2e"/>
<circle cx="382.5" cy="254.5" r="5.5" fill="#d9d9d9" stroke="#939393" stroke-width="1.0"/>
<circle cx="382.5" cy="254.5" r="2.6" fill="#2e2e2e"/>
<circle cx="400.5" cy="254.5" r="5.5" fill="#d9d9d9" stroke="#939393" stroke-width="1.0"/>
<circle cx="400.5" cy="254.5" r="2.6" fill="#2e2e2e"/>
<circle cx="544.5" cy="254.5" r="5.5" fill="#d9d9d9" stroke="#939393" stroke-width="1.0"/>
<circle cx="544.5" cy="254.5" r="2.6" fill="#2e2e2e"/>
<circle cx="562.5" cy="254.5" r="5.5" fill="#d9d9d9" stroke="#939393" stroke-width="1.0"/>
<circle cx="562.5" cy="254.5" r="2.6" fill="#2e2e2e"/>
<circle cx="382.5" cy="272.5" r="5.5" fill="#d9d9d9" stroke="#939393" stroke-width="1.0"/>
<circle cx="382.5" cy="272.5" r="2.6" fill="#2e2e2e"/>
<circle cx="400.5" cy="272.5" r="5.5" fill="#d9d9d9" stroke="#939393" stroke-width="1.0"/>
<circle cx="400.5" cy="272.5" r="2.6" fill="#2e2e2e"/>
<circle cx="544.5" cy="272.5" r="5.5" fill="#d9d9d9" stroke="#939393" stroke-width="1.0"/>
<circle cx="544.5" cy="272.5" r="2.6" fill="#2e2e2e"/>
<circle cx="562.5" cy="272.5" r="5.5" fill="#d9d9d9" stroke="#939393" stroke-width="1.0"/>
<circle cx="562.5" cy="272.5" r="2.6" fill="#2e2e2e"/>
<rect x="376.9" y="284.8" width="11.2" height="11.4" fill="#d9d9d9" stroke="#939393" stroke-width="1.0"/>
<circle cx="382.5" cy="290.5" r="2.6" fill="#2e2e2e"/>
<circle cx="400.5" cy="290.5" r="5.5" fill="#d9d9d9" stroke="#939393" stroke-width="1.0"/>
<circle cx="400.5" cy="290.5" r="2.6" fill="#2e2e2e"/>
<circle cx="544.5" cy="290.5" r="5.5" fill="#d9d9d9" stroke="#939393" stroke-width="1.0"/>
<circle cx="544.5" cy="290.5" r="2.6" fill="#2e2e2e"/>
<circle cx="562.5" cy="290.5" r="5.5" fill="#d9d9d9" stroke="#939393" stroke-width="1.0"/>
<circle cx="562.5" cy="290.5" r="2.6" fill="#2e2e2e"/>
<circle cx="382.5" cy="308.5" r="5.5" fill="#d9d9d9" stroke="#939393" stroke-width="1.0"/>
<circle cx="382.5" cy="308.5" r="2.6" fill="#2e2e2e"/>
<circle cx="400.5" cy="308.5" r="5.5" fill="#d9d9d9" stroke="#939393" stroke-width="1.0"/>
<circle cx="400.5" cy="308.5" r="2.6" fill="#2e2e2e"/>
<circle cx="544.5" cy="308.5" r="5.5" fill="#d9d9d9" stroke="#939393" stroke-width="1.0"/>
<circle cx="544.5" cy="308.5" r="2.6" fill="#2e2e2e"/>
<circle cx="562.5" cy="308.5" r="5.5" fill="#d9d9d9" stroke="#939393" stroke-width="1.0"/>
<circle cx="562.5" cy="308.5" r="2.6" fill="#2e2e2e"/>
<circle cx="382.5" cy="326.5" r="5.5" fill="#d9d9d9" stroke="#939393" stroke-width="1.0"/>
<circle cx="382.5" cy="326.5" r="2.6" fill="#2e2e2e"/>
<circle cx="400.5" cy="326.5" r="5.5" fill="#d9d9d9" stroke="#939393" stroke-width="1.0"/>
<circle cx="400.5" cy="326.5" r="2.6" fill="#2e2e2e"/>
<circle cx="544.5" cy="326.5" r="5.5" fill="#d9d9d9" stroke="#939393" stroke-width="1.0"/>
<circle cx="544.5" cy="326.5" r="2.6" fill="#2e2e2e"/>
<circle cx="562.5" cy="326.5" r="5.5" fill="#d9d9d9" stroke="#939393" stroke-width="1.0"/>
<circle cx="562.5" cy="326.5" r="2.6" fill="#2e2e2e"/>
<circle cx="382.5" cy="344.5" r="5.5" fill="#d9d9d9" stroke="#939393" stroke-width="1.0"/>
<circle cx="382.5" cy="344.5" r="2.6" fill="#2e2e2e"/>
<circle cx="400.5" cy="344.5" r="5.5" fill="#d9d9d9" stroke="#939393" stroke-width="1.0"/>
<circle cx="400.5" cy="344.5" r="2.6" fill="#2e2e2e"/>
<circle cx="544.5" cy="344.5" r="5.5" fill="#d9d9d9" stroke="#939393" stroke-width="1.0"/>
<circle cx="544.5" cy="344.5" r="2.6" fill="#2e2e2e"/>
<circle cx="562.5" cy="344.5" r="5.5" fill="#d9d9d9" stroke="#939393" stroke-width="1.0"/>
<circle cx="562.5" cy="344.5" r="2.6" fill="#2e2e2e"/>
<circle cx="382.5" cy="362.5" r="5.5" fill="#d9d9d9" stroke="#939393" stroke-width="1.0"/>
<circle cx="382.5" cy="362.5" r="2.6" fill="#2e2e2e"/>
<circle cx="400.5" cy="362.5" r="5.5" fill="#d9d9d9" stroke="#939393" stroke-width="1.0"/>
<circle cx="400.5" cy="362.5" r="2.6" fill="#2e2e2e"/>
<circle cx="418.5" cy="362.5" r="5.5" fill="#d9d9d9" stroke="#939393" stroke-width="1.0"/>
<circle cx="418.5" cy="362.5" r="2.6" fill="#2e2e2e"/>
<circle cx="436.5" cy="362.5" r="5.5" fill="#d9d9d9" stroke="#939393" stroke-width="1.0"/>
<circle cx="436.5" cy="362.5" r="2.6" fill="#2e2e2e"/>
<circle cx="454.5" cy="362.5" r="5.5" fill="#d9d9d9" stroke="#939393" stroke-width="1.0"/>
<circle cx="454.5" cy="362.5" r="2.6" fill="#2e2e2e"/>
<circle cx="472.5" cy="362.5" r="5.5" fill="#d9d9d9" stroke="#939393" stroke-width="1.0"/>
<circle cx="472.5" cy="362.5" r="2.6" fill="#2e2e2e"/>
<circle cx="490.5" cy="362.5" r="5.5" fill="#d9d9d9" stroke="#939393" stroke-width="1.0"/>
<circle cx="490.5" cy="362.5" r="2.6" fill="#2e2e2e"/>
<circle cx="508.5" cy="362.5" r="5.5" fill="#d9d9d9" stroke="#939393" stroke-width="1.0"/>
<circle cx="508.5" cy="362.5" r="2.6" fill="#2e2e2e"/>
<circle cx="526.5" cy="362.5" r="5.5" fill="#d9d9d9" stroke="#939393" stroke-width="1.0"/>
<circle cx="526.5" cy="362.5" r="2.6" fill="#2e2e2e"/>
<circle cx="544.5" cy="362.5" r="5.5" fill="#d9d9d9" stroke="#939393" stroke-width="1.0"/>
<circle cx="544.5" cy="362.5" r="2.6" fill="#2e2e2e"/>
<circle cx="562.5" cy="362.5" r="5.5" fill="#d9d9d9" stroke="#939393" stroke-width="1.0"/>
<circle cx="562.5" cy="362.5" r="2.6" fill="#2e2e2e"/>
<circle cx="400.5" cy="380.5" r="5.5" fill="#d9d9d9" stroke="#939393" stroke-width="1.0"/>
<circle cx="400.5" cy="380.5" r="2.6" fill="#2e2e2e"/>
<circle cx="418.5" cy="380.5" r="5.5" fill="#d9d9d9" stroke="#939393" stroke-width="1.0"/>
<circle cx="418.5" cy="380.5" r="2.6" fill="#2e2e2e"/>
<circle cx="436.5" cy="380.5" r="5.5" fill="#d9d9d9" stroke="#939393" stroke-width="1.0"/>
<circle cx="436.5" cy="380.5" r="2.6" fill="#2e2e2e"/>
<circle cx="454.5" cy="380.5" r="5.5" fill="#d9d9d9" stroke="#939393" stroke-width="1.0"/>
<circle cx="454.5" cy="380.5" r="2.6" fill="#2e2e2e"/>
<circle cx="472.5" cy="380.5" r="5.5" fill="#d9d9d9" stroke="#939393" stroke-width="1.0"/>
<circle cx="472.5" cy="380.5" r="2.6" fill="#2e2e2e"/>
<circle cx="490.5" cy="380.5" r="5.5" fill="#d9d9d9" stroke="#939393" stroke-width="1.0"/>
<circle cx="490.5" cy="380.5" r="2.6" fill="#2e2e2e"/>
<circle cx="508.5" cy="380.5" r="5.5" fill="#d9d9d9" stroke="#939393" stroke-width="1.0"/>
<circle cx="508.5" cy="380.5" r="2.6" fill="#2e2e2e"/>
<circle cx="526.5" cy="380.5" r="5.5" fill="#d9d9d9" stroke="#939393" stroke-width="1.0"/>
<circle cx="526.5" cy="380.5" r="2.6" fill="#2e2e2e"/>
<circle cx="544.5" cy="380.5" r="5.5" fill="#d9d9d9" stroke="#939393" stroke-width="1.0"/>
<circle cx="544.5" cy="380.5" r="2.6" fill="#2e2e2e"/>
<text x="409.6" y="182.6" font-size="12.0" textLength="14.60" lengthAdjust="spacingAndGlyphs" fill="#111">U4</text>
<text x="445" y="182.6" font-size="12.0" textLength="56.40" lengthAdjust="spacingAndGlyphs" fill="#111">Z8S18033</text>
<text x="443.6" y="282.2" font-size="12.0" textLength="15.40" lengthAdjust="spacingAndGlyphs" fill="#111">U4</text>
<text x="443.6" y="306.2" font-size="12.0" textLength="58.20" lengthAdjust="spacingAndGlyphs" fill="#111">Z8S18033</text>
<text x="345.6" y="119.4" font-size="12.0" textLength="50.00" lengthAdjust="spacingAndGlyphs" fill="#111">Designed</text>
<text x="402.4" y="119.4" font-size="12.0" textLength="15.70" lengthAdjust="spacingAndGlyphs" fill="#111">for</text>
<text x="425.9" y="119.4" font-size="12.0" textLength="43.00" lengthAdjust="spacingAndGlyphs" fill="#111">Z50Bus</text>
<text x="345.6" y="134.5" font-size="12.0" textLength="12.90" lengthAdjust="spacingAndGlyphs" fill="#111">by</text>
<text x="365.8" y="134.5" font-size="12.0" textLength="45.50" lengthAdjust="spacingAndGlyphs" fill="#111">Stephen</text>
<text x="417.5" y="134.5" font-size="12.0" textLength="7.20" lengthAdjust="spacingAndGlyphs" fill="#111">C</text>
<text x="431.5" y="134.5" font-size="12.0" textLength="43.30" lengthAdjust="spacingAndGlyphs" fill="#111">Cousins</text>
<text x="345.6" y="149.7" font-size="12.0" textLength="29.20" lengthAdjust="spacingAndGlyphs" fill="#111">Small</text>
<text x="381.6" y="149.7" font-size="12.0" textLength="57.40" lengthAdjust="spacingAndGlyphs" fill="#111">Computer</text>
<text x="443.8" y="149.7" font-size="12.0" textLength="40.00" lengthAdjust="spacingAndGlyphs" fill="#111">Central</text>
<text x="345.6" y="164.6" font-size="12.0" textLength="83.90" lengthAdjust="spacingAndGlyphs" fill="#111">www·scc·me·uk</text>
<text x="584" y="196.2" font-size="12.0" textLength="12.00" lengthAdjust="spacingAndGlyphs" fill="#111">X1</text>
<text x="584.2" y="206.9" font-size="12.0" textLength="35.80" lengthAdjust="spacingAndGlyphs" fill="#111">18·432</text>
<text x="584" y="218.6" font-size="12.0" textLength="21.00" lengthAdjust="spacingAndGlyphs" fill="#111">MHz</text>
<line x1="634.5" y1="196.6" x2="634.5" y2="200.2" stroke="#111" stroke-width="1.8" stroke-linecap="butt"/>
<line x1="634.5" y1="236.4" x2="634.5" y2="239.6" stroke="#111" stroke-width="1.8" stroke-linecap="butt"/>
<rect x="629.2" y="200.2" width="11.0" height="36.20" rx="0" fill="none" stroke="#111" stroke-width="1.8"/>
<circle cx="634.5" cy="191.6" r="5.6" fill="#d9d9d9" stroke="#939393" stroke-width="1.0"/>
<circle cx="634.5" cy="191.6" r="2.75" fill="#2e2e2e"/>
<circle cx="634.5" cy="244.6" r="5.6" fill="#d9d9d9" stroke="#939393" stroke-width="1.0"/>
<circle cx="634.5" cy="244.6" r="2.75" fill="#2e2e2e"/>
<text transform="translate(637.65,226.55) rotate(-90)" x="0" y="0" font-size="9.16" textLength="16.50" lengthAdjust="spacingAndGlyphs" fill="#111">2k2</text>
<text x="609.3" y="236.6" font-size="12.0" textLength="13.70" lengthAdjust="spacingAndGlyphs" fill="#111">R6</text>
<text x="602.2" y="247.2" font-size="12.0" textLength="20.80" lengthAdjust="spacingAndGlyphs" fill="#111">2k2</text>
<rect x="652.4" y="155.4" width="18.20" height="36.19" rx="0" fill="none" stroke="#111" stroke-width="1.8"/>
<rect x="670.6" y="155.4" width="18.0" height="36.19" rx="0" fill="none" stroke="#111" stroke-width="1.8"/>
<rect x="655.19" y="158.20" width="12.6" height="12.8" fill="#d9d9d9" stroke="#939393" stroke-width="1.0"/>
<circle cx="661.5" cy="164.6" r="3.1" fill="#2e2e2e"/>
<rect x="673.3" y="158.20" width="12.6" height="12.8" fill="#d9d9d9" stroke="#939393" stroke-width="1.0"/>
<circle cx="679.6" cy="164.6" r="3.1" fill="#2e2e2e"/>
<circle cx="661.5" cy="182.2" r="6.2" fill="#d9d9d9" stroke="#939393" stroke-width="1.0"/>
<circle cx="661.5" cy="182.2" r="3.1" fill="#2e2e2e"/>
<circle cx="679.6" cy="182.2" r="6.2" fill="#d9d9d9" stroke="#939393" stroke-width="1.0"/>
<circle cx="679.6" cy="182.2" r="3.1" fill="#2e2e2e"/>
<text x="654" y="152.7" font-size="12.0" textLength="32.80" lengthAdjust="spacingAndGlyphs" fill="#111">P7 P8</text>
<text transform="translate(708.00,191.2) rotate(-90)" x="0" y="0" font-size="11.05" textLength="34.80" lengthAdjust="spacingAndGlyphs" fill="#111">POWER</text>
<text x="693.4" y="200.6" font-size="12.0" textLength="6.60" lengthAdjust="spacingAndGlyphs" fill="#111">B</text>
<path d="M 704.2 194 V 207.5" fill="none" stroke="#111" stroke-width="1.6" />
<path d="M 700.2 203.2 L 704.2 207.8 L 708.2 203.2" fill="none" stroke="#111" stroke-width="1.6" />
<rect x="652.4" y="209.4" width="18.20" height="107.79" rx="0" fill="none" stroke="#111" stroke-width="1.8"/>
<rect x="670.6" y="209.4" width="18.0" height="107.79" rx="0" fill="none" stroke="#111" stroke-width="1.8"/>
<line x1="652.4" y1="299.6" x2="688.6" y2="299.6" stroke="#111" stroke-width="1.8" stroke-linecap="butt"/>
<circle cx="661.5" cy="218.6" r="6.2" fill="#d9d9d9" stroke="#939393" stroke-width="1.0"/>
<circle cx="661.5" cy="218.6" r="3.1" fill="#2e2e2e"/>
<circle cx="679.6" cy="218.6" r="6.2" fill="#d9d9d9" stroke="#939393" stroke-width="1.0"/>
<circle cx="679.6" cy="218.6" r="3.1" fill="#2e2e2e"/>
<circle cx="661.5" cy="236.6" r="6.2" fill="#d9d9d9" stroke="#939393" stroke-width="1.0"/>
<circle cx="661.5" cy="236.6" r="3.1" fill="#2e2e2e"/>
<circle cx="679.6" cy="236.6" r="6.2" fill="#d9d9d9" stroke="#939393" stroke-width="1.0"/>
<circle cx="679.6" cy="236.6" r="3.1" fill="#2e2e2e"/>
<circle cx="661.5" cy="254.6" r="6.2" fill="#d9d9d9" stroke="#939393" stroke-width="1.0"/>
<circle cx="661.5" cy="254.6" r="3.1" fill="#2e2e2e"/>
<circle cx="679.6" cy="254.6" r="6.2" fill="#d9d9d9" stroke="#939393" stroke-width="1.0"/>
<circle cx="679.6" cy="254.6" r="3.1" fill="#2e2e2e"/>
<circle cx="661.5" cy="272.6" r="6.2" fill="#d9d9d9" stroke="#939393" stroke-width="1.0"/>
<circle cx="661.5" cy="272.6" r="3.1" fill="#2e2e2e"/>
<circle cx="679.6" cy="272.6" r="6.2" fill="#d9d9d9" stroke="#939393" stroke-width="1.0"/>
<circle cx="679.6" cy="272.6" r="3.1" fill="#2e2e2e"/>
<circle cx="661.5" cy="290.6" r="6.2" fill="#d9d9d9" stroke="#939393" stroke-width="1.0"/>
<circle cx="661.5" cy="290.6" r="3.1" fill="#2e2e2e"/>
<circle cx="679.6" cy="290.6" r="6.2" fill="#d9d9d9" stroke="#939393" stroke-width="1.0"/>
<circle cx="679.6" cy="290.6" r="3.1" fill="#2e2e2e"/>
<rect x="655.19" y="302.0" width="12.6" height="12.8" fill="#d9d9d9" stroke="#939393" stroke-width="1.0"/>
<circle cx="661.5" cy="308.4" r="3.1" fill="#2e2e2e"/>
<rect x="673.3" y="302.0" width="12.6" height="12.8" fill="#d9d9d9" stroke="#939393" stroke-width="1.0"/>
<circle cx="679.6" cy="308.4" r="3.1" fill="#2e2e2e"/>
<text x="654" y="207.4" font-size="12.0" textLength="36.20" lengthAdjust="spacingAndGlyphs" fill="#111">P9 P10</text>
<text x="692.3" y="222.7" font-size="12.0" textLength="14.50" lengthAdjust="spacingAndGlyphs" fill="#111">CT</text>
<text x="692.3" y="240.7" font-size="12.0" textLength="14.50" lengthAdjust="spacingAndGlyphs" fill="#111">TX</text>
<text x="692.3" y="258.7" font-size="12.0" textLength="15.00" lengthAdjust="spacingAndGlyphs" fill="#111">RX</text>
<text x="692.3" y="276.70" font-size="12.0" textLength="15.00" lengthAdjust="spacingAndGlyphs" fill="#111">5V</text>
<text x="692.3" y="294.70" font-size="12.0" textLength="15.00" lengthAdjust="spacingAndGlyphs" fill="#111">RX</text>
<text x="692.3" y="312.5" font-size="12.0" textLength="15.00" lengthAdjust="spacingAndGlyphs" fill="#111">0V</text>
<rect x="582" y="281.8" width="18.60" height="35.5" rx="0" fill="none" stroke="#111" stroke-width="1.8"/>
<circle cx="591.2" cy="290.5" r="5.5" fill="#d9d9d9" stroke="#939393" stroke-width="1.0"/>
<circle cx="591.2" cy="290.5" r="2.5" fill="#2e2e2e"/>
<circle cx="591.2" cy="308.2" r="5.5" fill="#d9d9d9" stroke="#939393" stroke-width="1.0"/>
<circle cx="591.2" cy="308.2" r="2.5" fill="#2e2e2e"/>
<text x="584" y="265.8" font-size="12.0" textLength="13.00" lengthAdjust="spacingAndGlyphs" fill="#111">C4</text>
<text x="578.8" y="277.6" font-size="12.0" textLength="29.80" lengthAdjust="spacingAndGlyphs" fill="#111">100nF</text>
<line x1="616.2" y1="277.6" x2="616.2" y2="281.8" stroke="#111" stroke-width="1.8" stroke-linecap="butt"/>
<line x1="616.2" y1="316.8" x2="616.2" y2="321.2" stroke="#111" stroke-width="1.8" stroke-linecap="butt"/>
<rect x="610.8" y="281.8" width="10.80" height="35.0" rx="0" fill="none" stroke="#111" stroke-width="1.8"/>
<circle cx="616.2" cy="272.6" r="5.6" fill="#d9d9d9" stroke="#939393" stroke-width="1.0"/>
<circle cx="616.2" cy="272.6" r="2.75" fill="#2e2e2e"/>
<circle cx="616.2" cy="326.2" r="5.6" fill="#d9d9d9" stroke="#939393" stroke-width="1.0"/>
<circle cx="616.2" cy="326.2" r="2.75" fill="#2e2e2e"/>
<text transform="translate(619.35,308.90) rotate(-90)" x="0" y="0" font-size="9.16" textLength="19.20" lengthAdjust="spacingAndGlyphs" fill="#111">100k</text>
<line x1="634.2" y1="277.6" x2="634.2" y2="281.8" stroke="#111" stroke-width="1.8" stroke-linecap="butt"/>
<line x1="634.2" y1="316.8" x2="634.2" y2="321.2" stroke="#111" stroke-width="1.8" stroke-linecap="butt"/>
<rect x="628.8" y="281.8" width="10.80" height="35.0" rx="0" fill="none" stroke="#111" stroke-width="1.8"/>
<circle cx="634.2" cy="272.6" r="5.6" fill="#d9d9d9" stroke="#939393" stroke-width="1.0"/>
<circle cx="634.2" cy="272.6" r="2.75" fill="#2e2e2e"/>
<circle cx="634.2" cy="326.2" r="5.6" fill="#d9d9d9" stroke="#939393" stroke-width="1.0"/>
<circle cx="634.2" cy="326.2" r="2.75" fill="#2e2e2e"/>
<text transform="translate(637.35,307.55) rotate(-90)" x="0" y="0" font-size="9.16" textLength="16.50" lengthAdjust="spacingAndGlyphs" fill="#111">2k2</text>
<text x="610.2" y="344" font-size="12.0" textLength="13.20" lengthAdjust="spacingAndGlyphs" fill="#111">R8</text>
<text x="628.6" y="344" font-size="12.0" textLength="13.00" lengthAdjust="spacingAndGlyphs" fill="#111">R5</text>
<rect x="652.4" y="335.6" width="18.20" height="35.59" rx="0" fill="none" stroke="#111" stroke-width="1.8"/>
<rect x="670.6" y="335.6" width="18.0" height="35.59" rx="0" fill="none" stroke="#111" stroke-width="1.8"/>
<rect x="655.19" y="338.0" width="12.6" height="12.8" fill="#d9d9d9" stroke="#939393" stroke-width="1.0"/>
<circle cx="661.5" cy="344.4" r="3.1" fill="#2e2e2e"/>
<rect x="673.3" y="338.0" width="12.6" height="12.8" fill="#d9d9d9" stroke="#939393" stroke-width="1.0"/>
<circle cx="679.6" cy="344.4" r="3.1" fill="#2e2e2e"/>
<circle cx="661.5" cy="362.5" r="6.2" fill="#d9d9d9" stroke="#939393" stroke-width="1.0"/>
<circle cx="661.5" cy="362.5" r="3.1" fill="#2e2e2e"/>
<circle cx="679.6" cy="362.5" r="6.2" fill="#d9d9d9" stroke="#939393" stroke-width="1.0"/>
<circle cx="679.6" cy="362.5" r="3.1" fill="#2e2e2e"/>
<text x="654" y="332.8" font-size="12.0" textLength="32.80" lengthAdjust="spacingAndGlyphs" fill="#111">P3 P4</text>
<text transform="translate(708.00,370.6) rotate(-90)" x="0" y="0" font-size="11.05" textLength="33.80" lengthAdjust="spacingAndGlyphs" fill="#111">POWER</text>
<text x="693.4" y="380" font-size="12.0" textLength="6.60" lengthAdjust="spacingAndGlyphs" fill="#111">A</text>
<path d="M 704.2 373.5 V 386.5" fill="none" stroke="#111" stroke-width="1.6" />
<path d="M 700.2 382.2 L 704.2 386.8 L 708.2 382.2" fill="none" stroke="#111" stroke-width="1.6" />
<line x1="598.8" y1="357.8" x2="598.8" y2="362.1" stroke="#111" stroke-width="1.8" stroke-linecap="butt"/>
<line x1="598.8" y1="398.70" x2="598.8" y2="401.6" stroke="#111" stroke-width="1.8" stroke-linecap="butt"/>
<rect x="593.3" y="362.1" width="11.0" height="36.60" rx="0" fill="none" stroke="#111" stroke-width="1.8"/>
<circle cx="598.8" cy="352.8" r="5.6" fill="#d9d9d9" stroke="#939393" stroke-width="1.0"/>
<circle cx="598.8" cy="352.8" r="2.75" fill="#2e2e2e"/>
<circle cx="598.8" cy="406.6" r="5.6" fill="#d9d9d9" stroke="#939393" stroke-width="1.0"/>
<circle cx="598.8" cy="406.6" r="2.75" fill="#2e2e2e"/>
<text transform="translate(601.95,390.00) rotate(-90)" x="0" y="0" font-size="9.16" textLength="19.20" lengthAdjust="spacingAndGlyphs" fill="#111">100k</text>
<line x1="616.6" y1="357.8" x2="616.6" y2="362.1" stroke="#111" stroke-width="1.8" stroke-linecap="butt"/>
<line x1="616.6" y1="398.70" x2="616.6" y2="401.6" stroke="#111" stroke-width="1.8" stroke-linecap="butt"/>
<rect x="611.1" y="362.1" width="11.0" height="36.60" rx="0" fill="none" stroke="#111" stroke-width="1.8"/>
<circle cx="616.6" cy="352.8" r="5.6" fill="#d9d9d9" stroke="#939393" stroke-width="1.0"/>
<circle cx="616.6" cy="352.8" r="2.75" fill="#2e2e2e"/>
<circle cx="616.6" cy="406.6" r="5.6" fill="#d9d9d9" stroke="#939393" stroke-width="1.0"/>
<circle cx="616.6" cy="406.6" r="2.75" fill="#2e2e2e"/>
<text transform="translate(619.75,388.65) rotate(-90)" x="0" y="0" font-size="9.16" textLength="16.50" lengthAdjust="spacingAndGlyphs" fill="#111">2k2</text>
<line x1="634.3" y1="357.8" x2="634.3" y2="362.1" stroke="#111" stroke-width="1.8" stroke-linecap="butt"/>
<line x1="634.3" y1="398.70" x2="634.3" y2="401.6" stroke="#111" stroke-width="1.8" stroke-linecap="butt"/>
<rect x="628.8" y="362.1" width="11.0" height="36.60" rx="0" fill="none" stroke="#111" stroke-width="1.8"/>
<circle cx="634.3" cy="352.8" r="5.6" fill="#d9d9d9" stroke="#939393" stroke-width="1.0"/>
<circle cx="634.3" cy="352.8" r="2.75" fill="#2e2e2e"/>
<circle cx="634.3" cy="406.6" r="5.6" fill="#d9d9d9" stroke="#939393" stroke-width="1.0"/>
<circle cx="634.3" cy="406.6" r="2.75" fill="#2e2e2e"/>
<text transform="translate(637.45,388.65) rotate(-90)" x="0" y="0" font-size="9.16" textLength="16.50" lengthAdjust="spacingAndGlyphs" fill="#111">2k2</text>
<text x="593" y="422.8" font-size="12.0" textLength="12.60" lengthAdjust="spacingAndGlyphs" fill="#111">R9</text>
<text x="610.6" y="422.8" font-size="12.0" textLength="12.80" lengthAdjust="spacingAndGlyphs" fill="#111">R4</text>
<text x="628.4" y="422.8" font-size="12.0" textLength="12.80" lengthAdjust="spacingAndGlyphs" fill="#111">R3</text>
<line x1="598.8" y1="439.2" x2="598.8" y2="443.5" stroke="#111" stroke-width="1.8" stroke-linecap="butt"/>
<line x1="598.8" y1="480.20" x2="598.8" y2="483.1" stroke="#111" stroke-width="1.8" stroke-linecap="butt"/>
<rect x="593.3" y="443.5" width="11.0" height="36.70" rx="0" fill="none" stroke="#111" stroke-width="1.8"/>
<circle cx="598.8" cy="434.2" r="5.6" fill="#d9d9d9" stroke="#939393" stroke-width="1.0"/>
<circle cx="598.8" cy="434.2" r="2.75" fill="#2e2e2e"/>
<circle cx="598.8" cy="488.1" r="5.6" fill="#d9d9d9" stroke="#939393" stroke-width="1.0"/>
<circle cx="598.8" cy="488.1" r="2.75" fill="#2e2e2e"/>
<text transform="translate(601.95,471.45) rotate(-90)" x="0" y="0" font-size="9.16" textLength="19.20" lengthAdjust="spacingAndGlyphs" fill="#111">100k</text>
<line x1="616.6" y1="439.2" x2="616.6" y2="443.5" stroke="#111" stroke-width="1.8" stroke-linecap="butt"/>
<line x1="616.6" y1="480.20" x2="616.6" y2="483.1" stroke="#111" stroke-width="1.8" stroke-linecap="butt"/>
<rect x="611.1" y="443.5" width="11.0" height="36.70" rx="0" fill="none" stroke="#111" stroke-width="1.8"/>
<circle cx="616.6" cy="434.2" r="5.6" fill="#d9d9d9" stroke="#939393" stroke-width="1.0"/>
<circle cx="616.6" cy="434.2" r="2.75" fill="#2e2e2e"/>
<circle cx="616.6" cy="488.1" r="5.6" fill="#d9d9d9" stroke="#939393" stroke-width="1.0"/>
<circle cx="616.6" cy="488.1" r="2.75" fill="#2e2e2e"/>
<text transform="translate(619.75,470.1) rotate(-90)" x="0" y="0" font-size="9.16" textLength="16.50" lengthAdjust="spacingAndGlyphs" fill="#111">2k2</text>
<line x1="634.3" y1="439.2" x2="634.3" y2="443.5" stroke="#111" stroke-width="1.8" stroke-linecap="butt"/>
<line x1="634.3" y1="480.20" x2="634.3" y2="483.1" stroke="#111" stroke-width="1.8" stroke-linecap="butt"/>
<rect x="628.8" y="443.5" width="11.0" height="36.70" rx="0" fill="none" stroke="#111" stroke-width="1.8"/>
<circle cx="634.3" cy="434.2" r="5.6" fill="#d9d9d9" stroke="#939393" stroke-width="1.0"/>
<circle cx="634.3" cy="434.2" r="2.75" fill="#2e2e2e"/>
<circle cx="634.3" cy="488.1" r="5.6" fill="#d9d9d9" stroke="#939393" stroke-width="1.0"/>
<circle cx="634.3" cy="488.1" r="2.75" fill="#2e2e2e"/>
<text transform="translate(637.45,470.1) rotate(-90)" x="0" y="0" font-size="9.16" textLength="16.50" lengthAdjust="spacingAndGlyphs" fill="#111">2k2</text>
<text x="593" y="504.4" font-size="12.0" textLength="12.60" lengthAdjust="spacingAndGlyphs" fill="#111">R7</text>
<text x="610.6" y="504.4" font-size="12.0" textLength="12.80" lengthAdjust="spacingAndGlyphs" fill="#111">R2</text>
<text x="628.4" y="504.4" font-size="12.0" textLength="12.80" lengthAdjust="spacingAndGlyphs" fill="#111">R1</text>
<rect x="652.4" y="389.4" width="18.20" height="107.80" rx="0" fill="none" stroke="#111" stroke-width="1.8"/>
<rect x="670.6" y="389.4" width="18.0" height="107.80" rx="0" fill="none" stroke="#111" stroke-width="1.8"/>
<line x1="652.4" y1="479.6" x2="688.6" y2="479.6" stroke="#111" stroke-width="1.8" stroke-linecap="butt"/>
<circle cx="661.5" cy="398.5" r="6.2" fill="#d9d9d9" stroke="#939393" stroke-width="1.0"/>
<circle cx="661.5" cy="398.5" r="3.1" fill="#2e2e2e"/>
<circle cx="679.6" cy="398.5" r="6.2" fill="#d9d9d9" stroke="#939393" stroke-width="1.0"/>
<circle cx="679.6" cy="398.5" r="3.1" fill="#2e2e2e"/>
<circle cx="661.5" cy="416.5" r="6.2" fill="#d9d9d9" stroke="#939393" stroke-width="1.0"/>
<circle cx="661.5" cy="416.5" r="3.1" fill="#2e2e2e"/>
<circle cx="679.6" cy="416.5" r="6.2" fill="#d9d9d9" stroke="#939393" stroke-width="1.0"/>
<circle cx="679.6" cy="416.5" r="3.1" fill="#2e2e2e"/>
<circle cx="661.5" cy="434.5" r="6.2" fill="#d9d9d9" stroke="#939393" stroke-width="1.0"/>
<circle cx="661.5" cy="434.5" r="3.1" fill="#2e2e2e"/>
<circle cx="679.6" cy="434.5" r="6.2" fill="#d9d9d9" stroke="#939393" stroke-width="1.0"/>
<circle cx="679.6" cy="434.5" r="3.1" fill="#2e2e2e"/>
<circle cx="661.5" cy="452.5" r="6.2" fill="#d9d9d9" stroke="#939393" stroke-width="1.0"/>
<circle cx="661.5" cy="452.5" r="3.1" fill="#2e2e2e"/>
<circle cx="679.6" cy="452.5" r="6.2" fill="#d9d9d9" stroke="#939393" stroke-width="1.0"/>
<circle cx="679.6" cy="452.5" r="3.1" fill="#2e2e2e"/>
<circle cx="661.5" cy="470.5" r="6.2" fill="#d9d9d9" stroke="#939393" stroke-width="1.0"/>
<circle cx="661.5" cy="470.5" r="3.1" fill="#2e2e2e"/>
<circle cx="679.6" cy="470.5" r="6.2" fill="#d9d9d9" stroke="#939393" stroke-width="1.0"/>
<circle cx="679.6" cy="470.5" r="3.1" fill="#2e2e2e"/>
<rect x="655.19" y="482.0" width="12.6" height="12.8" fill="#d9d9d9" stroke="#939393" stroke-width="1.0"/>
<circle cx="661.5" cy="488.4" r="3.1" fill="#2e2e2e"/>
<rect x="673.3" y="482.0" width="12.6" height="12.8" fill="#d9d9d9" stroke="#939393" stroke-width="1.0"/>
<circle cx="679.6" cy="488.4" r="3.1" fill="#2e2e2e"/>
<text x="654" y="387.2" font-size="12.0" textLength="32.80" lengthAdjust="spacingAndGlyphs" fill="#111">P5 P6</text>
<text x="692.3" y="402.6" font-size="12.0" textLength="14.50" lengthAdjust="spacingAndGlyphs" fill="#111">CT</text>
<text x="692.3" y="420.6" font-size="12.0" textLength="14.50" lengthAdjust="spacingAndGlyphs" fill="#111">TX</text>
<text x="692.3" y="438.6" font-size="12.0" textLength="15.00" lengthAdjust="spacingAndGlyphs" fill="#111">RX</text>
<text x="692.3" y="456.6" font-size="12.0" textLength="15.00" lengthAdjust="spacingAndGlyphs" fill="#111">5V</text>
<text x="692.3" y="474.6" font-size="12.0" textLength="15.00" lengthAdjust="spacingAndGlyphs" fill="#111">RX</text>
<text x="692.3" y="492.5" font-size="12.0" textLength="15.00" lengthAdjust="spacingAndGlyphs" fill="#111">0V</text>
<text x="651.6" y="513.2" font-size="12.0" textLength="38.40" lengthAdjust="spacingAndGlyphs" fill="#111">SERIAL</text>
<path d="M 130 479.2 H 580.3 V 516.0 H 130 Z" fill="none" stroke="#111" stroke-width="1.8"/>
<path d="M 562.5 497.5 V 461.7 H 575.2 L 580.3 467 V 497.5 Z" fill="none" stroke="#111" stroke-width="1.8"/>
<circle cx="139.5" cy="488.6" r="6.4" fill="#d9d9d9" stroke="#939393" stroke-width="1.0"/>
<circle cx="139.5" cy="488.6" r="3.15" fill="#2e2e2e"/>
<circle cx="139.5" cy="506.7" r="6.4" fill="#d9d9d9" stroke="#939393" stroke-width="1.0"/>
<circle cx="139.5" cy="506.7" r="3.15" fill="#2e2e2e"/>
<circle cx="157.5" cy="488.6" r="6.4" fill="#d9d9d9" stroke="#939393" stroke-width="1.0"/>
<circle cx="157.5" cy="488.6" r="3.15" fill="#2e2e2e"/>
<circle cx="157.5" cy="506.7" r="6.4" fill="#d9d9d9" stroke="#939393" stroke-width="1.0"/>
<circle cx="157.5" cy="506.7" r="3.15" fill="#2e2e2e"/>
<circle cx="175.5" cy="488.6" r="6.4" fill="#d9d9d9" stroke="#939393" stroke-width="1.0"/>
<circle cx="175.5" cy="488.6" r="3.15" fill="#2e2e2e"/>
<circle cx="175.5" cy="506.7" r="6.4" fill="#d9d9d9" stroke="#939393" stroke-width="1.0"/>
<circle cx="175.5" cy="506.7" r="3.15" fill="#2e2e2e"/>
<circle cx="193.5" cy="488.6" r="6.4" fill="#d9d9d9" stroke="#939393" stroke-width="1.0"/>
<circle cx="193.5" cy="488.6" r="3.15" fill="#2e2e2e"/>
<circle cx="193.5" cy="506.7" r="6.4" fill="#d9d9d9" stroke="#939393" stroke-width="1.0"/>
<circle cx="193.5" cy="506.7" r="3.15" fill="#2e2e2e"/>
<circle cx="211.5" cy="488.6" r="6.4" fill="#d9d9d9" stroke="#939393" stroke-width="1.0"/>
<circle cx="211.5" cy="488.6" r="3.15" fill="#2e2e2e"/>
<circle cx="211.5" cy="506.7" r="6.4" fill="#d9d9d9" stroke="#939393" stroke-width="1.0"/>
<circle cx="211.5" cy="506.7" r="3.15" fill="#2e2e2e"/>
<circle cx="229.5" cy="488.6" r="6.4" fill="#d9d9d9" stroke="#939393" stroke-width="1.0"/>
<circle cx="229.5" cy="488.6" r="3.15" fill="#2e2e2e"/>
<circle cx="229.5" cy="506.7" r="6.4" fill="#d9d9d9" stroke="#939393" stroke-width="1.0"/>
<circle cx="229.5" cy="506.7" r="3.15" fill="#2e2e2e"/>
<circle cx="247.5" cy="488.6" r="6.4" fill="#d9d9d9" stroke="#939393" stroke-width="1.0"/>
<circle cx="247.5" cy="488.6" r="3.15" fill="#2e2e2e"/>
<circle cx="247.5" cy="506.7" r="6.4" fill="#d9d9d9" stroke="#939393" stroke-width="1.0"/>
<circle cx="247.5" cy="506.7" r="3.15" fill="#2e2e2e"/>
<circle cx="265.5" cy="488.6" r="6.4" fill="#d9d9d9" stroke="#939393" stroke-width="1.0"/>
<circle cx="265.5" cy="488.6" r="3.15" fill="#2e2e2e"/>
<circle cx="265.5" cy="506.7" r="6.4" fill="#d9d9d9" stroke="#939393" stroke-width="1.0"/>
<circle cx="265.5" cy="506.7" r="3.15" fill="#2e2e2e"/>
<circle cx="283.5" cy="488.6" r="6.4" fill="#d9d9d9" stroke="#939393" stroke-width="1.0"/>
<circle cx="283.5" cy="488.6" r="3.15" fill="#2e2e2e"/>
<circle cx="283.5" cy="506.7" r="6.4" fill="#d9d9d9" stroke="#939393" stroke-width="1.0"/>
<circle cx="283.5" cy="506.7" r="3.15" fill="#2e2e2e"/>
<circle cx="301.5" cy="488.6" r="6.4" fill="#d9d9d9" stroke="#939393" stroke-width="1.0"/>
<circle cx="301.5" cy="488.6" r="3.15" fill="#2e2e2e"/>
<circle cx="301.5" cy="506.7" r="6.4" fill="#d9d9d9" stroke="#939393" stroke-width="1.0"/>
<circle cx="301.5" cy="506.7" r="3.15" fill="#2e2e2e"/>
<circle cx="319.5" cy="488.6" r="6.4" fill="#d9d9d9" stroke="#939393" stroke-width="1.0"/>
<circle cx="319.5" cy="488.6" r="3.15" fill="#2e2e2e"/>
<circle cx="319.5" cy="506.7" r="6.4" fill="#d9d9d9" stroke="#939393" stroke-width="1.0"/>
<circle cx="319.5" cy="506.7" r="3.15" fill="#2e2e2e"/>
<circle cx="337.5" cy="488.6" r="6.4" fill="#d9d9d9" stroke="#939393" stroke-width="1.0"/>
<circle cx="337.5" cy="488.6" r="3.15" fill="#2e2e2e"/>
<circle cx="337.5" cy="506.7" r="6.4" fill="#d9d9d9" stroke="#939393" stroke-width="1.0"/>
<circle cx="337.5" cy="506.7" r="3.15" fill="#2e2e2e"/>
<circle cx="355.5" cy="488.6" r="6.4" fill="#d9d9d9" stroke="#939393" stroke-width="1.0"/>
<circle cx="355.5" cy="488.6" r="3.15" fill="#2e2e2e"/>
<circle cx="355.5" cy="506.7" r="6.4" fill="#d9d9d9" stroke="#939393" stroke-width="1.0"/>
<circle cx="355.5" cy="506.7" r="3.15" fill="#2e2e2e"/>
<circle cx="373.5" cy="488.6" r="6.4" fill="#d9d9d9" stroke="#939393" stroke-width="1.0"/>
<circle cx="373.5" cy="488.6" r="3.15" fill="#2e2e2e"/>
<circle cx="373.5" cy="506.7" r="6.4" fill="#d9d9d9" stroke="#939393" stroke-width="1.0"/>
<circle cx="373.5" cy="506.7" r="3.15" fill="#2e2e2e"/>
<circle cx="391.5" cy="488.6" r="6.4" fill="#d9d9d9" stroke="#939393" stroke-width="1.0"/>
<circle cx="391.5" cy="488.6" r="3.15" fill="#2e2e2e"/>
<circle cx="391.5" cy="506.7" r="6.4" fill="#d9d9d9" stroke="#939393" stroke-width="1.0"/>
<circle cx="391.5" cy="506.7" r="3.15" fill="#2e2e2e"/>
<circle cx="409.5" cy="488.6" r="6.4" fill="#d9d9d9" stroke="#939393" stroke-width="1.0"/>
<circle cx="409.5" cy="488.6" r="3.15" fill="#2e2e2e"/>
<circle cx="409.5" cy="506.7" r="6.4" fill="#d9d9d9" stroke="#939393" stroke-width="1.0"/>
<circle cx="409.5" cy="506.7" r="3.15" fill="#2e2e2e"/>
<circle cx="427.5" cy="488.6" r="6.4" fill="#d9d9d9" stroke="#939393" stroke-width="1.0"/>
<circle cx="427.5" cy="488.6" r="3.15" fill="#2e2e2e"/>
<circle cx="427.5" cy="506.7" r="6.4" fill="#d9d9d9" stroke="#939393" stroke-width="1.0"/>
<circle cx="427.5" cy="506.7" r="3.15" fill="#2e2e2e"/>
<circle cx="445.5" cy="488.6" r="6.4" fill="#d9d9d9" stroke="#939393" stroke-width="1.0"/>
<circle cx="445.5" cy="488.6" r="3.15" fill="#2e2e2e"/>
<circle cx="445.5" cy="506.7" r="6.4" fill="#d9d9d9" stroke="#939393" stroke-width="1.0"/>
<circle cx="445.5" cy="506.7" r="3.15" fill="#2e2e2e"/>
<circle cx="463.5" cy="488.6" r="6.4" fill="#d9d9d9" stroke="#939393" stroke-width="1.0"/>
<circle cx="463.5" cy="488.6" r="3.15" fill="#2e2e2e"/>
<circle cx="463.5" cy="506.7" r="6.4" fill="#d9d9d9" stroke="#939393" stroke-width="1.0"/>
<circle cx="463.5" cy="506.7" r="3.15" fill="#2e2e2e"/>
<circle cx="481.5" cy="488.6" r="6.4" fill="#d9d9d9" stroke="#939393" stroke-width="1.0"/>
<circle cx="481.5" cy="488.6" r="3.15" fill="#2e2e2e"/>
<circle cx="481.5" cy="506.7" r="6.4" fill="#d9d9d9" stroke="#939393" stroke-width="1.0"/>
<circle cx="481.5" cy="506.7" r="3.15" fill="#2e2e2e"/>
<circle cx="499.5" cy="488.6" r="6.4" fill="#d9d9d9" stroke="#939393" stroke-width="1.0"/>
<circle cx="499.5" cy="488.6" r="3.15" fill="#2e2e2e"/>
<circle cx="499.5" cy="506.7" r="6.4" fill="#d9d9d9" stroke="#939393" stroke-width="1.0"/>
<circle cx="499.5" cy="506.7" r="3.15" fill="#2e2e2e"/>
<circle cx="517.5" cy="488.6" r="6.4" fill="#d9d9d9" stroke="#939393" stroke-width="1.0"/>
<circle cx="517.5" cy="488.6" r="3.15" fill="#2e2e2e"/>
<circle cx="517.5" cy="506.7" r="6.4" fill="#d9d9d9" stroke="#939393" stroke-width="1.0"/>
<circle cx="517.5" cy="506.7" r="3.15" fill="#2e2e2e"/>
<circle cx="535.5" cy="488.6" r="6.4" fill="#d9d9d9" stroke="#939393" stroke-width="1.0"/>
<circle cx="535.5" cy="488.6" r="3.15" fill="#2e2e2e"/>
<circle cx="535.5" cy="506.7" r="6.4" fill="#d9d9d9" stroke="#939393" stroke-width="1.0"/>
<circle cx="535.5" cy="506.7" r="3.15" fill="#2e2e2e"/>
<circle cx="553.5" cy="488.6" r="6.4" fill="#d9d9d9" stroke="#939393" stroke-width="1.0"/>
<circle cx="553.5" cy="488.6" r="3.15" fill="#2e2e2e"/>
<circle cx="553.5" cy="506.7" r="6.4" fill="#d9d9d9" stroke="#939393" stroke-width="1.0"/>
<circle cx="553.5" cy="506.7" r="3.15" fill="#2e2e2e"/>
<rect x="565.0" y="482.00" width="13.0" height="13.20" fill="#d9d9d9" stroke="#939393" stroke-width="1.0"/>
<circle cx="571.5" cy="488.6" r="3.15" fill="#2e2e2e"/>
<circle cx="571.5" cy="506.7" r="6.4" fill="#d9d9d9" stroke="#939393" stroke-width="1.0"/>
<circle cx="571.5" cy="506.7" r="3.15" fill="#2e2e2e"/>
<path d="M 569.6 469.4 L 572.4 467.2 V 474.6" fill="none" stroke="#111" stroke-width="1.3" />
<text x="474.3" y="473.4" font-size="10.2" textLength="16.40" lengthAdjust="spacingAndGlyphs" fill="#111">P11</text>
<text x="509.7" y="473.4" font-size="10.2" textLength="42.40" lengthAdjust="spacingAndGlyphs" fill="#111">Z50Bus</text>
<line x1="387.8" y1="436.2" x2="401" y2="422.6" stroke="#111" stroke-width="1.5" stroke-linecap="butt"/>
<text x="345.6" y="415.7" font-size="17.6" textLength="56.30" lengthAdjust="spacingAndGlyphs" fill="#111" style="stroke-width:0">SC140</text>
<text x="414.6" y="415.7" font-size="17.6" textLength="35.40" lengthAdjust="spacingAndGlyphs" fill="#111" style="stroke-width:0">v1·0</text>
<text x="459.6" y="415.7" font-size="17.6" textLength="42.20" lengthAdjust="spacingAndGlyphs" fill="#111" style="stroke-width:0">Z180</text>
<text x="345.6" y="435.4" font-size="17.6" textLength="32.30" lengthAdjust="spacingAndGlyphs" fill="#111" style="stroke-width:0">SBC</text>
<text x="417.1" y="435.4" font-size="17.6" textLength="97.30" lengthAdjust="spacingAndGlyphs" fill="#111" style="stroke-width:0">Processor</text>
<text x="345.6" y="454.1" font-size="17.6" textLength="36.10" lengthAdjust="spacingAndGlyphs" fill="#111" style="stroke-width:0">Card</text>
<text x="400.7" y="454.1" font-size="17.6" textLength="26.50" lengthAdjust="spacingAndGlyphs" fill="#111" style="stroke-width:0">for</text>
<text x="439.8" y="454.1" font-size="17.6" textLength="68.30" lengthAdjust="spacingAndGlyphs" fill="#111" style="stroke-width:0">Z50Bus</text>
<rect x="129.6" y="429" width="163.00" height="18" rx="0" fill="none" stroke="#111" stroke-width="1.8"/>
<line x1="149.2" y1="429" x2="149.2" y2="447" stroke="#111" stroke-width="1.8" stroke-linecap="butt"/>
<rect x="132.79" y="431.5" width="12.79" height="13.0" fill="#d9d9d9" stroke="#939393" stroke-width="1.0"/>
<circle cx="139.2" cy="438" r="3.1" fill="#2e2e2e"/>
<circle cx="157.2" cy="438" r="6.3" fill="#d9d9d9" stroke="#939393" stroke-width="1.0"/>
<circle cx="157.2" cy="438" r="3.1" fill="#2e2e2e"/>
<circle cx="175.2" cy="438" r="6.3" fill="#d9d9d9" stroke="#939393" stroke-width="1.0"/>
<circle cx="175.2" cy="438" r="3.1" fill="#2e2e2e"/>
<circle cx="193.2" cy="438" r="6.3" fill="#d9d9d9" stroke="#939393" stroke-width="1.0"/>
<circle cx="193.2" cy="438" r="3.1" fill="#2e2e2e"/>
<circle cx="211.2" cy="438" r="6.3" fill="#d9d9d9" stroke="#939393" stroke-width="1.0"/>
<circle cx="211.2" cy="438" r="3.1" fill="#2e2e2e"/>
<circle cx="229.2" cy="438" r="6.3" fill="#d9d9d9" stroke="#939393" stroke-width="1.0"/>
<circle cx="229.2" cy="438" r="3.1" fill="#2e2e2e"/>
<circle cx="247.2" cy="438" r="6.3" fill="#d9d9d9" stroke="#939393" stroke-width="1.0"/>
<circle cx="247.2" cy="438" r="3.1" fill="#2e2e2e"/>
<circle cx="265.2" cy="438" r="6.3" fill="#d9d9d9" stroke="#939393" stroke-width="1.0"/>
<circle cx="265.2" cy="438" r="3.1" fill="#2e2e2e"/>
<circle cx="283.2" cy="438" r="6.3" fill="#d9d9d9" stroke="#939393" stroke-width="1.0"/>
<circle cx="283.2" cy="438" r="3.1" fill="#2e2e2e"/>
<text x="211" y="425.2" font-size="12.0" textLength="20.20" lengthAdjust="spacingAndGlyphs" fill="#111">RP1</text>
<text x="242.6" y="425.2" font-size="12.0" textLength="30.40" lengthAdjust="spacingAndGlyphs" fill="#111">8x10k</text>
<rect x="184.7" y="452.6" width="36.10" height="17.89" rx="0" fill="none" stroke="#111" stroke-width="1.8"/>
<rect x="220.8" y="452.6" width="37.0" height="17.89" rx="0" fill="none" stroke="#111" stroke-width="1.8"/>
<rect x="187.20" y="454.7" width="12.39" height="12.6" fill="#d9d9d9" stroke="#939393" stroke-width="1.0"/>
<circle cx="193.4" cy="461.0" r="3.0" fill="#2e2e2e"/>
<circle cx="211.2" cy="461.0" r="6.1" fill="#d9d9d9" stroke="#939393" stroke-width="1.0"/>
<circle cx="211.2" cy="461.0" r="3.0" fill="#2e2e2e"/>
<circle cx="229" cy="461.0" r="6.1" fill="#d9d9d9" stroke="#939393" stroke-width="1.0"/>
<circle cx="229" cy="461.0" r="3.0" fill="#2e2e2e"/>
<rect x="240.60" y="454.7" width="12.39" height="12.6" fill="#d9d9d9" stroke="#939393" stroke-width="1.0"/>
<circle cx="246.8" cy="461.0" r="3.0" fill="#2e2e2e"/>
<text x="160.4" y="461.6" font-size="12.0" textLength="20.40" lengthAdjust="spacingAndGlyphs" fill="#111">JP3</text>
<text x="156.8" y="471.8" font-size="12.0" textLength="24.00" lengthAdjust="spacingAndGlyphs" fill="#111">INT2</text>
<text x="260.3" y="460.6" font-size="12.0" textLength="20.30" lengthAdjust="spacingAndGlyphs" fill="#111">JP2</text>
<text x="260.3" y="471.6" font-size="12.0" textLength="22.70" lengthAdjust="spacingAndGlyphs" fill="#111">INT1</text>
<line x1="82" y1="416.5" x2="85.4" y2="416.5" stroke="#111" stroke-width="1.8" stroke-linecap="butt"/>
<line x1="122" y1="416.5" x2="125" y2="416.5" stroke="#111" stroke-width="1.8" stroke-linecap="butt"/>
<rect x="85.4" y="411.6" width="36.59" height="10.39" rx="0" fill="none" stroke="#111" stroke-width="1.8"/>
<circle cx="76.5" cy="416.4" r="6.1" fill="#d9d9d9" stroke="#939393" stroke-width="1.0"/>
<circle cx="76.5" cy="416.4" r="2.9" fill="#2e2e2e"/>
<circle cx="130.8" cy="416.4" r="6.1" fill="#d9d9d9" stroke="#939393" stroke-width="1.0"/>
<circle cx="130.8" cy="416.4" r="2.9" fill="#2e2e2e"/>
<text x="87.6" y="408.9" font-size="12.0" textLength="14.60" lengthAdjust="spacingAndGlyphs" fill="#111">R11</text>
<text x="109.5" y="408.9" font-size="12.0" textLength="9.20" lengthAdjust="spacingAndGlyphs" fill="#111">1k</text>
<circle cx="40.6" cy="403.1" r="5.8" fill="#d9d9d9" stroke="#939393" stroke-width="1.0"/>
<circle cx="40.6" cy="403.1" r="2.9" fill="#2e2e2e"/>
<circle cx="40.6" cy="420.8" r="5.8" fill="#d9d9d9" stroke="#939393" stroke-width="1.0"/>
<circle cx="40.6" cy="420.8" r="2.9" fill="#2e2e2e"/>
<path d="M 31.3 423.8 A 14.3 14.3 0 1 1 50.3 423.8 Z" fill="none" stroke="#111" stroke-width="1.8"/>
<line x1="31.0" y1="427.2" x2="50.6" y2="427.2" stroke="#111" stroke-width="1.6" stroke-linecap="butt"/>
<text x="3.7" y="432.8" font-size="12.0" textLength="25.50" lengthAdjust="spacingAndGlyphs" fill="#111">LED1</text>
<rect x="85" y="429.3" width="37" height="17.69" rx="0" fill="none" stroke="#111" stroke-width="1.8"/>
<circle cx="94.6" cy="437.8" r="6.1" fill="#d9d9d9" stroke="#939393" stroke-width="1.0"/>
<circle cx="94.6" cy="437.8" r="3.0" fill="#2e2e2e"/>
<rect x="106.60" y="431.5" width="12.39" height="12.6" fill="#d9d9d9" stroke="#939393" stroke-width="1.0"/>
<circle cx="112.8" cy="437.8" r="3.0" fill="#2e2e2e"/>
<text x="61.7" y="444.4" font-size="12.0" textLength="20.50" lengthAdjust="spacingAndGlyphs" fill="#111">JP4</text>
<path d="M 104 447 V 456" fill="none" stroke="#111" stroke-width="1.5" />
<path d="M 100.2 451.8 L 104 456.2 L 107.8 451.8" fill="none" stroke="#111" stroke-width="1.5" />
<text x="58.4" y="458.4" font-size="12.0" textLength="37.50" lengthAdjust="spacingAndGlyphs" fill="#111">ENABLE</text>
<path d="M 32 449 V 444.3 H 8.8 Q 6.2 444.3 6.2 446.9 V 494 Q 6.2 496.6 8.8 496.6 H 32 V 491" fill="none" stroke="#111" stroke-width="1.8"/>
<line x1="32" y1="459" x2="32" y2="481.5" stroke="#111" stroke-width="1.8" stroke-linecap="butt"/>
<line x1="0" y1="457.7" x2="6.2" y2="457.7" stroke="#111" stroke-width="1.8" stroke-linecap="butt"/>
<line x1="0" y1="482.8" x2="6.2" y2="482.8" stroke="#111" stroke-width="1.8" stroke-linecap="butt"/>
<circle cx="25.2" cy="454.4" r="6.6" fill="#d9d9d9" stroke="#939393" stroke-width="1.0"/>
<circle cx="25.2" cy="454.4" r="3.3" fill="#2e2e2e"/>
<circle cx="25.2" cy="486" r="6.6" fill="#d9d9d9" stroke="#939393" stroke-width="1.0"/>
<circle cx="25.2" cy="486" r="3.3" fill="#2e2e2e"/>
<circle cx="43.2" cy="445.6" r="8.2" fill="#d9d9d9" stroke="#939393" stroke-width="1.0"/>
<circle cx="43.2" cy="445.6" r="5.3" fill="#2e2e2e"/>
<circle cx="43.2" cy="495" r="8.2" fill="#d9d9d9" stroke="#939393" stroke-width="1.0"/>
<circle cx="43.2" cy="495" r="5.3" fill="#2e2e2e"/>
<path d="M 19.6 467.8 V 472.8 M 19.6 470.3 H 23.2 M 22.4 473.6 L 26.2 463.6 M 25.3 474.5 V 478" fill="none" stroke="#111" stroke-width="1.3" />
<text x="10" y="510.6" font-size="12.0" textLength="22.00" lengthAdjust="spacingAndGlyphs" fill="#111">SW1</text>
<text x="10" y="521" font-size="12.0" textLength="36.00" lengthAdjust="spacingAndGlyphs" fill="#111">RESET</text>
<rect x="58.4" y="461.5" width="18.6" height="35.5" rx="0" fill="none" stroke="#111" stroke-width="1.8"/>
<circle cx="67.6" cy="470.1" r="5.5" fill="#d9d9d9" stroke="#939393" stroke-width="1.0"/>
<circle cx="67.6" cy="470.1" r="2.5" fill="#2e2e2e"/>
<circle cx="67.6" cy="488.4" r="5.5" fill="#d9d9d9" stroke="#939393" stroke-width="1.0"/>
<circle cx="67.6" cy="488.4" r="2.5" fill="#2e2e2e"/>
<text x="60.6" y="510.6" font-size="12.0" textLength="14.30" lengthAdjust="spacingAndGlyphs" fill="#111">C8</text>
<text x="60.2" y="521" font-size="12.0" textLength="15.80" lengthAdjust="spacingAndGlyphs" fill="#111">1nF</text>
<circle cx="103.8" cy="461.6" r="5.4" fill="#d9d9d9" stroke="#939393" stroke-width="1.0"/>
<circle cx="103.8" cy="461.6" r="2.6" fill="#2e2e2e"/>
<circle cx="103.8" cy="479.5" r="5.4" fill="#d9d9d9" stroke="#939393" stroke-width="1.0"/>
<circle cx="103.8" cy="479.5" r="2.6" fill="#2e2e2e"/>
<circle cx="103.8" cy="498" r="5.4" fill="#d9d9d9" stroke="#939393" stroke-width="1.0"/>
<circle cx="103.8" cy="498" r="2.6" fill="#2e2e2e"/>
<path d="M 115 462.3 A 20.4 20.4 0 1 0 115 496.7 Z" fill="none" stroke="#111" stroke-width="1.8"/>
<text x="81.8" y="510.6" font-size="12.0" textLength="13.20" lengthAdjust="spacingAndGlyphs" fill="#111">U7</text>
<text x="82.4" y="521" font-size="12.0" textLength="40.60" lengthAdjust="spacingAndGlyphs" fill="#111">DS1233</text>
<circle cx="58.8" cy="101.1" r="1.55" fill="#2a2a2a"/>
<circle cx="40.5" cy="146.6" r="1.55" fill="#2a2a2a"/>
<circle cx="40.5" cy="182.2" r="1.55" fill="#2a2a2a"/>
<circle cx="58.8" cy="182.2" r="1.55" fill="#2a2a2a"/>
<circle cx="76.8" cy="182.2" r="1.55" fill="#2a2a2a"/>
<circle cx="94.6" cy="182.2" r="1.55" fill="#2a2a2a"/>
<circle cx="157.7" cy="179.2" r="1.55" fill="#2a2a2a"/>
<circle cx="229.6" cy="140.2" r="1.55" fill="#2a2a2a"/>
<circle cx="229.6" cy="164.4" r="1.55" fill="#2a2a2a"/>
<circle cx="220.7" cy="171.6" r="1.55" fill="#2a2a2a"/>
<circle cx="289.8" cy="158.2" r="1.55" fill="#2a2a2a"/>
<circle cx="292.5" cy="186" r="1.55" fill="#2a2a2a"/>
<circle cx="265.5" cy="214.8" r="1.55" fill="#2a2a2a"/>
<circle cx="324" cy="218.2" r="1.55" fill="#2a2a2a"/>
<circle cx="337.2" cy="209" r="1.55" fill="#2a2a2a"/>
<circle cx="346.2" cy="200.2" r="1.55" fill="#2a2a2a"/>
<circle cx="301.2" cy="247.3" r="1.55" fill="#2a2a2a"/>
<circle cx="355" cy="236" r="1.55" fill="#2a2a2a"/>
<circle cx="38.8" cy="290.5" r="1.55" fill="#2a2a2a"/>
<circle cx="40.5" cy="304.2" r="1.55" fill="#2a2a2a"/>
<circle cx="58.5" cy="330" r="1.55" fill="#2a2a2a"/>
<circle cx="76.5" cy="331" r="1.55" fill="#2a2a2a"/>
<circle cx="94.5" cy="345" r="1.55" fill="#2a2a2a"/>
<circle cx="112.5" cy="340" r="1.55" fill="#2a2a2a"/>
<circle cx="130.5" cy="339" r="1.55" fill="#2a2a2a"/>
<circle cx="148.5" cy="337.2" r="1.55" fill="#2a2a2a"/>
<circle cx="120.5" cy="360.5" r="1.55" fill="#2a2a2a"/>
<circle cx="157" cy="324.5" r="1.55" fill="#2a2a2a"/>
<circle cx="175" cy="312.5" r="1.55" fill="#2a2a2a"/>
<circle cx="85.5" cy="392.6" r="1.55" fill="#2a2a2a"/>
<circle cx="103.5" cy="392.6" r="1.55" fill="#2a2a2a"/>
<circle cx="218.5" cy="300.5" r="1.55" fill="#2a2a2a"/>
<circle cx="256.8" cy="331" r="1.55" fill="#2a2a2a"/>
<circle cx="274.5" cy="333" r="1.55" fill="#2a2a2a"/>
<circle cx="292.5" cy="334.5" r="1.55" fill="#2a2a2a"/>
<circle cx="309.3" cy="334.5" r="1.55" fill="#2a2a2a"/>
<circle cx="327.5" cy="328" r="1.55" fill="#2a2a2a"/>
<circle cx="327.5" cy="281" r="1.55" fill="#2a2a2a"/>
<circle cx="328" cy="271" r="1.55" fill="#2a2a2a"/>
<circle cx="352.5" cy="272.5" r="1.55" fill="#2a2a2a"/>
<circle cx="350.5" cy="345.5" r="1.55" fill="#2a2a2a"/>
<circle cx="339.8" cy="107.5" r="1.55" fill="#2a2a2a"/>
<circle cx="337.1" cy="117" r="1.55" fill="#2a2a2a"/>
<circle cx="463.8" cy="103.5" r="1.55" fill="#2a2a2a"/>
<circle cx="399.4" cy="118.6" r="1.55" fill="#2a2a2a"/>
<circle cx="453.4" cy="119.7" r="1.55" fill="#2a2a2a"/>
<circle cx="482" cy="128.8" r="1.55" fill="#2a2a2a"/>
<circle cx="371.5" cy="132.8" r="1.55" fill="#2a2a2a"/>
<circle cx="391.7" cy="140.6" r="1.55" fill="#2a2a2a"/>
<circle cx="364" cy="152.4" r="1.55" fill="#2a2a2a"/>
<circle cx="438.9" cy="146.6" r="1.55" fill="#2a2a2a"/>
<circle cx="374.1" cy="172.6" r="1.55" fill="#2a2a2a"/>
<circle cx="421.3" cy="170.9" r="1.55" fill="#2a2a2a"/>
<circle cx="491.1" cy="178.3" r="1.55" fill="#2a2a2a"/>
<circle cx="517.4" cy="170.9" r="1.55" fill="#2a2a2a"/>
<circle cx="534.4" cy="170.9" r="1.55" fill="#2a2a2a"/>
<circle cx="545.2" cy="170.9" r="1.55" fill="#2a2a2a"/>
<circle cx="346.2" cy="200.2" r="1.55" fill="#2a2a2a"/>
<circle cx="337.1" cy="209" r="1.55" fill="#2a2a2a"/>
<circle cx="324.3" cy="218.1" r="1.55" fill="#2a2a2a"/>
<circle cx="355.6" cy="236.6" r="1.55" fill="#2a2a2a"/>
<circle cx="463.5" cy="227.5" r="1.55" fill="#2a2a2a"/>
<circle cx="509" cy="230.9" r="1.55" fill="#2a2a2a"/>
<circle cx="463.5" cy="254.1" r="1.55" fill="#2a2a2a"/>
<circle cx="472.6" cy="254.1" r="1.55" fill="#2a2a2a"/>
<circle cx="572.9" cy="180.6" r="1.55" fill="#2a2a2a"/>
<circle cx="598.5" cy="191.8" r="1.55" fill="#2a2a2a"/>
<circle cx="625.7" cy="227.5" r="1.55" fill="#2a2a2a"/>
<circle cx="509.1" cy="230.9" r="1.55" fill="#2a2a2a"/>
<circle cx="473.4" cy="253.7" r="1.55" fill="#2a2a2a"/>
<circle cx="517.6" cy="280.9" r="1.55" fill="#2a2a2a"/>
<circle cx="491.1" cy="289.4" r="1.55" fill="#2a2a2a"/>
<circle cx="509.1" cy="298.9" r="1.55" fill="#2a2a2a"/>
<circle cx="580.5" cy="281.5" r="1.55" fill="#2a2a2a"/>
<circle cx="352.6" cy="272.3" r="1.55" fill="#2a2a2a"/>
<circle cx="351.4" cy="345.5" r="1.55" fill="#2a2a2a"/>
<circle cx="463.6" cy="273.6" r="1.55" fill="#2a2a2a"/>
<circle cx="463.6" cy="290" r="1.55" fill="#2a2a2a"/>
<circle cx="490.3" cy="290" r="1.55" fill="#2a2a2a"/>
<circle cx="518.2" cy="281.4" r="1.55" fill="#2a2a2a"/>
<circle cx="508.8" cy="299.9" r="1.55" fill="#2a2a2a"/>
<circle cx="429.9" cy="325.8" r="1.55" fill="#2a2a2a"/>
<circle cx="463.6" cy="335.2" r="1.55" fill="#2a2a2a"/>
<circle cx="508.8" cy="335.2" r="1.55" fill="#2a2a2a"/>
<circle cx="563.5" cy="397.7" r="1.55" fill="#2a2a2a"/>
<circle cx="341.5" cy="421.5" r="1.55" fill="#2a2a2a"/>
<circle cx="341.5" cy="451.1" r="1.55" fill="#2a2a2a"/>
<circle cx="371.1" cy="464.3" r="1.55" fill="#2a2a2a"/>
<circle cx="427.8" cy="472.9" r="1.55" fill="#2a2a2a"/>
<circle cx="526.5" cy="451.1" r="1.55" fill="#2a2a2a"/>
<circle cx="554" cy="429.7" r="1.55" fill="#2a2a2a"/>
<circle cx="517" cy="419.5" r="1.55" fill="#2a2a2a"/>
<circle cx="437.7" cy="419.5" r="1.55" fill="#2a2a2a"/>
<circle cx="454.1" cy="419.5" r="1.55" fill="#2a2a2a"/>
<circle cx="395.8" cy="451.1" r="1.55" fill="#2a2a2a"/>
<circle cx="166.7" cy="410.9" r="1.55" fill="#2a2a2a"/>
<circle cx="194.1" cy="419.3" r="1.55" fill="#2a2a2a"/>
<circle cx="508.4" cy="335" r="1.55" fill="#2a2a2a"/>
<circle cx="588.4" cy="390.3" r="1.55" fill="#2a2a2a"/>
<circle cx="562.3" cy="398.4" r="1.55" fill="#2a2a2a"/>
<circle cx="517.4" cy="420.3" r="1.55" fill="#2a2a2a"/>
<circle cx="553.3" cy="430.7" r="1.55" fill="#2a2a2a"/>
<circle cx="526.4" cy="453.2" r="1.55" fill="#2a2a2a"/>
<circle cx="580.3" cy="444.2" r="1.55" fill="#2a2a2a"/>
<circle cx="545.5" cy="54.5" r="1.55" fill="#2a2a2a"/>
<circle cx="580.3" cy="100.7" r="1.55" fill="#2a2a2a"/>
<circle cx="610.1" cy="146.6" r="1.55" fill="#2a2a2a"/>
<circle cx="598.7" cy="154" r="1.55" fill="#2a2a2a"/>
<circle cx="573.1" cy="180.3" r="1.55" fill="#2a2a2a"/>
<circle cx="482.4" cy="128.2" r="1.55" fill="#2a2a2a"/>
<circle cx="618.5" cy="285" r="1.55" fill="#2a2a2a"/>
<rect x="127.1" y="425.9" width="169.1" height="25.0" rx="0" fill="none" stroke="#e41b23" stroke-width="5.2"/>
<path fill-rule="evenodd" fill="#1b9be2" d="M 137.6 451.9 L 151.9 470.2 L 150.6 472.4 L 145.7 472.4 L 145.7 488.4 L 128.6 488.4 L 128.6 472.4 L 124.4 472.4 L 123.1 470.2 Z M 137.7 459.2 L 131.2 467.8 L 133.6 467.8 L 133.6 484.2 L 141.5 484.2 L 141.5 467.8 L 144.2 467.8 Z"/>
</svg></body></html>
